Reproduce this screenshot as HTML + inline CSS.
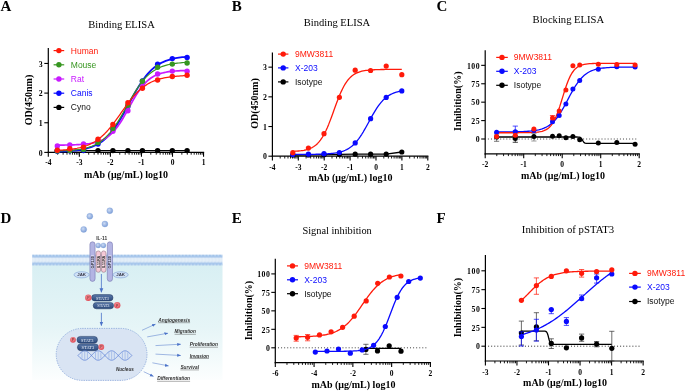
<!DOCTYPE html>
<html><head><meta charset="utf-8"><style>
html,body{margin:0;padding:0;background:#fff;}
body{width:685px;height:391px;overflow:hidden;}
svg{display:block;will-change:transform;}

</style></head><body>
<svg width="685" height="391" viewBox="0 0 685 391">
<rect width="685" height="391" fill="#fff"/>
<text x="0.6" y="11" font-family='"Liberation Serif", serif' font-weight="bold" font-size="15">A</text>
<text x="88.3" y="28.4" textLength="66.5" lengthAdjust="spacingAndGlyphs" font-family='"Liberation Serif", serif' font-size="10.7">Binding ELISA</text>
<line x1="48.3" y1="48" x2="48.3" y2="153" stroke="#000" stroke-width="1.2"/>
<line x1="44.3" y1="152.4" x2="48.3" y2="152.4" stroke="#000" stroke-width="1.1"/>
<text x="43.1" y="155.65" text-anchor="end" letter-spacing="0.5" font-family='"Liberation Serif", serif' font-weight="bold" font-size="7.8">0</text>
<line x1="44.3" y1="122.75" x2="48.3" y2="122.75" stroke="#000" stroke-width="1.1"/>
<text x="43.1" y="126" text-anchor="end" letter-spacing="0.5" font-family='"Liberation Serif", serif' font-weight="bold" font-size="7.8">1</text>
<line x1="44.3" y1="93.1" x2="48.3" y2="93.1" stroke="#000" stroke-width="1.1"/>
<text x="43.1" y="96.35" text-anchor="end" letter-spacing="0.5" font-family='"Liberation Serif", serif' font-weight="bold" font-size="7.8">2</text>
<line x1="44.3" y1="63.45" x2="48.3" y2="63.45" stroke="#000" stroke-width="1.1"/>
<text x="43.1" y="66.7" text-anchor="end" letter-spacing="0.5" font-family='"Liberation Serif", serif' font-weight="bold" font-size="7.8">3</text>
<line x1="47.7" y1="152.4" x2="204.15" y2="152.4" stroke="#000" stroke-width="1.2"/>
<line x1="48.3" y1="152.4" x2="48.3" y2="156.8" stroke="#000" stroke-width="1.1"/>
<text x="48.3" y="165.4" text-anchor="middle" font-family='"Liberation Serif", serif' font-weight="bold" font-size="7.5">-4</text>
<line x1="57.65" y1="152.4" x2="57.65" y2="154.7" stroke="#000" stroke-width="0.9"/>
<line x1="63.11" y1="152.4" x2="63.11" y2="154.7" stroke="#000" stroke-width="0.9"/>
<line x1="66.99" y1="152.4" x2="66.99" y2="154.7" stroke="#000" stroke-width="0.9"/>
<line x1="70" y1="152.4" x2="70" y2="154.7" stroke="#000" stroke-width="0.9"/>
<line x1="72.46" y1="152.4" x2="72.46" y2="154.7" stroke="#000" stroke-width="0.9"/>
<line x1="74.54" y1="152.4" x2="74.54" y2="154.7" stroke="#000" stroke-width="0.9"/>
<line x1="76.34" y1="152.4" x2="76.34" y2="154.7" stroke="#000" stroke-width="0.9"/>
<line x1="77.93" y1="152.4" x2="77.93" y2="154.7" stroke="#000" stroke-width="0.9"/>
<line x1="79.35" y1="152.4" x2="79.35" y2="156.8" stroke="#000" stroke-width="1.1"/>
<text x="79.35" y="165.4" text-anchor="middle" font-family='"Liberation Serif", serif' font-weight="bold" font-size="7.5">-3</text>
<line x1="88.7" y1="152.4" x2="88.7" y2="154.7" stroke="#000" stroke-width="0.9"/>
<line x1="94.16" y1="152.4" x2="94.16" y2="154.7" stroke="#000" stroke-width="0.9"/>
<line x1="98.04" y1="152.4" x2="98.04" y2="154.7" stroke="#000" stroke-width="0.9"/>
<line x1="101.05" y1="152.4" x2="101.05" y2="154.7" stroke="#000" stroke-width="0.9"/>
<line x1="103.51" y1="152.4" x2="103.51" y2="154.7" stroke="#000" stroke-width="0.9"/>
<line x1="105.59" y1="152.4" x2="105.59" y2="154.7" stroke="#000" stroke-width="0.9"/>
<line x1="107.39" y1="152.4" x2="107.39" y2="154.7" stroke="#000" stroke-width="0.9"/>
<line x1="108.98" y1="152.4" x2="108.98" y2="154.7" stroke="#000" stroke-width="0.9"/>
<line x1="110.4" y1="152.4" x2="110.4" y2="156.8" stroke="#000" stroke-width="1.1"/>
<text x="110.4" y="165.4" text-anchor="middle" font-family='"Liberation Serif", serif' font-weight="bold" font-size="7.5">-2</text>
<line x1="119.75" y1="152.4" x2="119.75" y2="154.7" stroke="#000" stroke-width="0.9"/>
<line x1="125.21" y1="152.4" x2="125.21" y2="154.7" stroke="#000" stroke-width="0.9"/>
<line x1="129.09" y1="152.4" x2="129.09" y2="154.7" stroke="#000" stroke-width="0.9"/>
<line x1="132.1" y1="152.4" x2="132.1" y2="154.7" stroke="#000" stroke-width="0.9"/>
<line x1="134.56" y1="152.4" x2="134.56" y2="154.7" stroke="#000" stroke-width="0.9"/>
<line x1="136.64" y1="152.4" x2="136.64" y2="154.7" stroke="#000" stroke-width="0.9"/>
<line x1="138.44" y1="152.4" x2="138.44" y2="154.7" stroke="#000" stroke-width="0.9"/>
<line x1="140.03" y1="152.4" x2="140.03" y2="154.7" stroke="#000" stroke-width="0.9"/>
<line x1="141.45" y1="152.4" x2="141.45" y2="156.8" stroke="#000" stroke-width="1.1"/>
<text x="141.45" y="165.4" text-anchor="middle" font-family='"Liberation Serif", serif' font-weight="bold" font-size="7.5">-1</text>
<line x1="150.8" y1="152.4" x2="150.8" y2="154.7" stroke="#000" stroke-width="0.9"/>
<line x1="156.26" y1="152.4" x2="156.26" y2="154.7" stroke="#000" stroke-width="0.9"/>
<line x1="160.14" y1="152.4" x2="160.14" y2="154.7" stroke="#000" stroke-width="0.9"/>
<line x1="163.15" y1="152.4" x2="163.15" y2="154.7" stroke="#000" stroke-width="0.9"/>
<line x1="165.61" y1="152.4" x2="165.61" y2="154.7" stroke="#000" stroke-width="0.9"/>
<line x1="167.69" y1="152.4" x2="167.69" y2="154.7" stroke="#000" stroke-width="0.9"/>
<line x1="169.49" y1="152.4" x2="169.49" y2="154.7" stroke="#000" stroke-width="0.9"/>
<line x1="171.08" y1="152.4" x2="171.08" y2="154.7" stroke="#000" stroke-width="0.9"/>
<line x1="172.5" y1="152.4" x2="172.5" y2="156.8" stroke="#000" stroke-width="1.1"/>
<text x="172.5" y="165.4" text-anchor="middle" font-family='"Liberation Serif", serif' font-weight="bold" font-size="7.5">0</text>
<line x1="181.85" y1="152.4" x2="181.85" y2="154.7" stroke="#000" stroke-width="0.9"/>
<line x1="187.31" y1="152.4" x2="187.31" y2="154.7" stroke="#000" stroke-width="0.9"/>
<line x1="191.19" y1="152.4" x2="191.19" y2="154.7" stroke="#000" stroke-width="0.9"/>
<line x1="194.2" y1="152.4" x2="194.2" y2="154.7" stroke="#000" stroke-width="0.9"/>
<line x1="196.66" y1="152.4" x2="196.66" y2="154.7" stroke="#000" stroke-width="0.9"/>
<line x1="198.74" y1="152.4" x2="198.74" y2="154.7" stroke="#000" stroke-width="0.9"/>
<line x1="200.54" y1="152.4" x2="200.54" y2="154.7" stroke="#000" stroke-width="0.9"/>
<line x1="202.13" y1="152.4" x2="202.13" y2="154.7" stroke="#000" stroke-width="0.9"/>
<line x1="203.55" y1="152.4" x2="203.55" y2="156.8" stroke="#000" stroke-width="1.1"/>
<text x="203.55" y="165.4" text-anchor="middle" font-family='"Liberation Serif", serif' font-weight="bold" font-size="7.5">1</text>
<text transform="translate(32.2,100) rotate(-90)" text-anchor="middle" font-family='"Liberation Serif", serif' font-weight="bold" font-size="10">OD(450nm)</text>
<text x="84" y="177.8" font-family='"Liberation Serif", serif' font-weight="bold" font-size="10">mAb (&#956;g/mL) log10</text>
<polyline points="57.3,150.6 69.8,150.6 83.5,150.6 98,150.6 112.9,150.6 127.9,150.6 142.4,150.6 157.6,150.6 172.3,150.6 187.1,150.6" fill="none" stroke="#000000" stroke-width="1.3" stroke-linejoin="round"/>
<circle cx="57.3" cy="150.6" r="2.7" fill="#000000"/>
<circle cx="69.8" cy="150.6" r="2.7" fill="#000000"/>
<circle cx="83.5" cy="150.6" r="2.7" fill="#000000"/>
<circle cx="98" cy="150.6" r="2.7" fill="#000000"/>
<circle cx="112.9" cy="150.6" r="2.7" fill="#000000"/>
<circle cx="127.9" cy="150.6" r="2.7" fill="#000000"/>
<circle cx="142.4" cy="150.6" r="2.7" fill="#000000"/>
<circle cx="157.6" cy="150.6" r="2.7" fill="#000000"/>
<circle cx="172.3" cy="150.6" r="2.7" fill="#000000"/>
<circle cx="187.1" cy="150.6" r="2.7" fill="#000000"/>
<path d="M57.3 151.6 L58.94 151.55 L60.59 151.5 L62.23 151.43 L63.87 151.36 L65.52 151.28 L67.16 151.19 L68.8 151.08 L70.44 150.96 L72.09 150.83 L73.73 150.67 L75.37 150.5 L77.02 150.3 L78.66 150.08 L80.3 149.83 L81.95 149.55 L83.59 149.23 L85.23 148.87 L86.87 148.46 L88.52 148 L90.16 147.48 L91.8 146.9 L93.45 146.25 L95.09 145.53 L96.73 144.72 L98.38 143.81 L100.02 142.8 L101.66 141.69 L103.31 140.45 L104.95 139.09 L106.59 137.59 L108.23 135.96 L109.88 134.18 L111.52 132.25 L113.16 130.17 L114.81 127.93 L116.45 125.55 L118.09 123.03 L119.74 120.38 L121.38 117.61 L123.02 114.73 L124.66 111.77 L126.31 108.75 L127.95 105.69 L129.59 102.61 L131.24 99.54 L132.88 96.51 L134.52 93.54 L136.17 90.65 L137.81 87.85 L139.45 85.17 L141.09 82.63 L142.74 80.22 L144.38 77.96 L146.02 75.84 L147.67 73.88 L149.31 72.07 L150.95 70.41 L152.6 68.89 L154.24 67.5 L155.88 66.24 L157.53 65.1 L159.17 64.08 L160.81 63.15 L162.45 62.32 L164.1 61.58 L165.74 60.91 L167.38 60.32 L169.03 59.79 L170.67 59.32 L172.31 58.91 L173.96 58.54 L175.6 58.21 L177.24 57.92 L178.88 57.66 L180.53 57.43 L182.17 57.23 L183.81 57.05 L185.46 56.9 L187.1 56.76" fill="none" stroke="#0a0aff" stroke-width="1.8" stroke-linejoin="round"/>
<circle cx="57.3" cy="151.2" r="2.7" fill="#0a0aff"/>
<circle cx="69.8" cy="150.8" r="2.7" fill="#0a0aff"/>
<circle cx="83.5" cy="150.3" r="2.7" fill="#0a0aff"/>
<circle cx="98" cy="144" r="2.7" fill="#0a0aff"/>
<circle cx="112.9" cy="129.6" r="2.7" fill="#0a0aff"/>
<circle cx="127.9" cy="106.4" r="2.7" fill="#0a0aff"/>
<circle cx="142.4" cy="81" r="2.7" fill="#0a0aff"/>
<circle cx="157.6" cy="64.2" r="2.7" fill="#0a0aff"/>
<circle cx="172.3" cy="58.6" r="2.7" fill="#0a0aff"/>
<circle cx="187.1" cy="57.5" r="2.7" fill="#0a0aff"/>
<path d="M57.3 145.09 L58.94 145.08 L60.59 145.06 L62.23 145.05 L63.87 145.03 L65.52 145 L67.16 144.98 L68.8 144.95 L70.44 144.91 L72.09 144.87 L73.73 144.82 L75.37 144.76 L77.02 144.69 L78.66 144.61 L80.3 144.51 L81.95 144.4 L83.59 144.27 L85.23 144.12 L86.87 143.94 L88.52 143.74 L90.16 143.49 L91.8 143.21 L93.45 142.89 L95.09 142.5 L96.73 142.06 L98.38 141.55 L100.02 140.96 L101.66 140.27 L103.31 139.49 L104.95 138.59 L106.59 137.56 L108.23 136.4 L109.88 135.08 L111.52 133.59 L113.16 131.94 L114.81 130.1 L116.45 128.08 L118.09 125.87 L119.74 123.49 L121.38 120.94 L123.02 118.24 L124.66 115.42 L126.31 112.5 L127.95 109.52 L129.59 106.52 L131.24 103.53 L132.88 100.59 L134.52 97.75 L136.17 95.02 L137.81 92.43 L139.45 90.01 L141.09 87.76 L142.74 85.7 L144.38 83.82 L146.02 82.13 L147.67 80.61 L149.31 79.25 L150.95 78.06 L152.6 77 L154.24 76.07 L155.88 75.26 L157.53 74.56 L159.17 73.95 L160.81 73.42 L162.45 72.96 L164.1 72.57 L165.74 72.23 L167.38 71.94 L169.03 71.69 L170.67 71.47 L172.31 71.29 L173.96 71.13 L175.6 71 L177.24 70.89 L178.88 70.79 L180.53 70.7 L182.17 70.63 L183.81 70.57 L185.46 70.52 L187.1 70.47" fill="none" stroke="#c81aff" stroke-width="1.7" stroke-linejoin="round"/>
<circle cx="57.3" cy="145.9" r="2.7" fill="#c81aff"/>
<circle cx="69.8" cy="144.9" r="2.7" fill="#c81aff"/>
<circle cx="83.5" cy="144" r="2.7" fill="#c81aff"/>
<circle cx="98" cy="141.5" r="2.7" fill="#c81aff"/>
<circle cx="112.9" cy="131.3" r="2.7" fill="#c81aff"/>
<circle cx="127.9" cy="110.7" r="2.7" fill="#c81aff"/>
<circle cx="142.4" cy="85.5" r="2.7" fill="#c81aff"/>
<circle cx="157.6" cy="74" r="2.7" fill="#c81aff"/>
<circle cx="172.3" cy="71.1" r="2.7" fill="#c81aff"/>
<circle cx="187.1" cy="71.3" r="2.7" fill="#c81aff"/>
<path d="M57.3 150.98 L58.94 150.93 L60.59 150.88 L62.23 150.82 L63.87 150.75 L65.52 150.67 L67.16 150.58 L68.8 150.47 L70.44 150.35 L72.09 150.22 L73.73 150.07 L75.37 149.89 L77.02 149.7 L78.66 149.47 L80.3 149.22 L81.95 148.93 L83.59 148.6 L85.23 148.23 L86.87 147.81 L88.52 147.34 L90.16 146.81 L91.8 146.2 L93.45 145.53 L95.09 144.77 L96.73 143.92 L98.38 142.97 L100.02 141.91 L101.66 140.74 L103.31 139.44 L104.95 138.01 L106.59 136.44 L108.23 134.73 L109.88 132.87 L111.52 130.85 L113.16 128.69 L114.81 126.38 L116.45 123.92 L118.09 121.34 L119.74 118.65 L121.38 115.86 L123.02 112.98 L124.66 110.06 L126.31 107.1 L127.95 104.13 L129.59 101.19 L131.24 98.29 L132.88 95.46 L134.52 92.72 L136.17 90.09 L137.81 87.59 L139.45 85.22 L141.09 82.99 L142.74 80.92 L144.38 78.99 L146.02 77.21 L147.67 75.59 L149.31 74.1 L150.95 72.75 L152.6 71.52 L154.24 70.42 L155.88 69.43 L157.53 68.54 L159.17 67.74 L160.81 67.03 L162.45 66.4 L164.1 65.84 L165.74 65.34 L167.38 64.9 L169.03 64.51 L170.67 64.17 L172.31 63.86 L173.96 63.59 L175.6 63.36 L177.24 63.15 L178.88 62.97 L180.53 62.81 L182.17 62.67 L183.81 62.54 L185.46 62.43 L187.1 62.34" fill="none" stroke="#379620" stroke-width="1.15" stroke-linejoin="round"/>
<circle cx="57.3" cy="150.9" r="2.7" fill="#379620"/>
<circle cx="69.8" cy="150.4" r="2.7" fill="#379620"/>
<circle cx="83.5" cy="149.4" r="2.7" fill="#379620"/>
<circle cx="98" cy="142.6" r="2.7" fill="#379620"/>
<circle cx="112.9" cy="128.4" r="2.7" fill="#379620"/>
<circle cx="127.9" cy="105.2" r="2.7" fill="#379620"/>
<circle cx="142.4" cy="81.2" r="2.7" fill="#379620"/>
<circle cx="157.6" cy="67.3" r="2.7" fill="#379620"/>
<circle cx="172.3" cy="64.1" r="2.7" fill="#379620"/>
<circle cx="187.1" cy="63" r="2.7" fill="#379620"/>
<path d="M57.3 150.3 L58.94 150.21 L60.59 150.12 L62.23 150.02 L63.87 149.9 L65.52 149.77 L67.16 149.62 L68.8 149.45 L70.44 149.26 L72.09 149.05 L73.73 148.81 L75.37 148.54 L77.02 148.24 L78.66 147.9 L80.3 147.52 L81.95 147.09 L83.59 146.62 L85.23 146.09 L86.87 145.5 L88.52 144.84 L90.16 144.11 L91.8 143.31 L93.45 142.42 L95.09 141.44 L96.73 140.37 L98.38 139.2 L100.02 137.92 L101.66 136.54 L103.31 135.04 L104.95 133.44 L106.59 131.72 L108.23 129.9 L109.88 127.97 L111.52 125.95 L113.16 123.84 L114.81 121.65 L116.45 119.4 L118.09 117.11 L119.74 114.78 L121.38 112.44 L123.02 110.11 L124.66 107.8 L126.31 105.52 L127.95 103.3 L129.59 101.15 L131.24 99.08 L132.88 97.1 L134.52 95.22 L136.17 93.45 L137.81 91.79 L139.45 90.23 L141.09 88.79 L142.74 87.46 L144.38 86.23 L146.02 85.11 L147.67 84.08 L149.31 83.15 L150.95 82.3 L152.6 81.53 L154.24 80.84 L155.88 80.21 L157.53 79.65 L159.17 79.15 L160.81 78.7 L162.45 78.3 L164.1 77.94 L165.74 77.61 L167.38 77.33 L169.03 77.07 L170.67 76.85 L172.31 76.64 L173.96 76.47 L175.6 76.31 L177.24 76.17 L178.88 76.04 L180.53 75.93 L182.17 75.83 L183.81 75.74 L185.46 75.67 L187.1 75.6" fill="none" stroke="#ff1a0a" stroke-width="1.25" stroke-linejoin="round"/>
<circle cx="57.3" cy="150.3" r="2.7" fill="#ff1a0a"/>
<circle cx="69.8" cy="148.8" r="2.7" fill="#ff1a0a"/>
<circle cx="83.5" cy="147.3" r="2.7" fill="#ff1a0a"/>
<circle cx="98" cy="139.3" r="2.7" fill="#ff1a0a"/>
<circle cx="112.9" cy="124.5" r="2.7" fill="#ff1a0a"/>
<circle cx="127.9" cy="102.7" r="2.7" fill="#ff1a0a"/>
<circle cx="142.4" cy="88.2" r="2.7" fill="#ff1a0a"/>
<circle cx="157.6" cy="80" r="2.7" fill="#ff1a0a"/>
<circle cx="172.3" cy="76.5" r="2.7" fill="#ff1a0a"/>
<circle cx="187.1" cy="75.3" r="2.7" fill="#ff1a0a"/>
<line x1="53.6" y1="50.6" x2="64.2" y2="50.6" stroke="#ff1a0a" stroke-width="1.2"/>
<circle cx="58.9" cy="50.6" r="2.7" fill="#ff1a0a"/>
<text x="70.8" y="53.5" font-family='"Liberation Sans", sans-serif' font-size="8.5" fill="#ff1a0a">Human</text>
<line x1="53.6" y1="64.8" x2="64.2" y2="64.8" stroke="#379620" stroke-width="1.2"/>
<circle cx="58.9" cy="64.8" r="2.7" fill="#379620"/>
<text x="70.8" y="67.7" font-family='"Liberation Sans", sans-serif' font-size="8.5" fill="#379620">Mouse</text>
<line x1="53.6" y1="79" x2="64.2" y2="79" stroke="#c81aff" stroke-width="1.2"/>
<circle cx="58.9" cy="79" r="2.7" fill="#c81aff"/>
<text x="70.8" y="81.9" font-family='"Liberation Sans", sans-serif' font-size="8.5" fill="#c81aff">Rat</text>
<line x1="53.6" y1="93.2" x2="64.2" y2="93.2" stroke="#0a0aff" stroke-width="1.2"/>
<circle cx="58.9" cy="93.2" r="2.7" fill="#0a0aff"/>
<text x="70.8" y="96.1" font-family='"Liberation Sans", sans-serif' font-size="8.5" fill="#0a0aff">Canis</text>
<line x1="53.6" y1="107.4" x2="64.2" y2="107.4" stroke="#000000" stroke-width="1.2"/>
<circle cx="58.9" cy="107.4" r="2.7" fill="#000000"/>
<text x="70.8" y="110.3" font-family='"Liberation Sans", sans-serif' font-size="8.5" fill="#111">Cyno</text>
<text x="231.8" y="11" font-family='"Liberation Serif", serif' font-weight="bold" font-size="15">B</text>
<text x="303.8" y="26.1" textLength="66.4" lengthAdjust="spacingAndGlyphs" font-family='"Liberation Serif", serif' font-size="10.7">Binding ELISA</text>
<line x1="272.4" y1="52.4" x2="272.4" y2="156.8" stroke="#000" stroke-width="1.2"/>
<line x1="268.4" y1="156.2" x2="272.4" y2="156.2" stroke="#000" stroke-width="1.1"/>
<text x="267.3" y="159.45" text-anchor="end" letter-spacing="0.5" font-family='"Liberation Serif", serif' font-weight="bold" font-size="7.8">0</text>
<line x1="268.4" y1="126.52" x2="272.4" y2="126.52" stroke="#000" stroke-width="1.1"/>
<text x="267.3" y="129.77" text-anchor="end" letter-spacing="0.5" font-family='"Liberation Serif", serif' font-weight="bold" font-size="7.8">1</text>
<line x1="268.4" y1="96.84" x2="272.4" y2="96.84" stroke="#000" stroke-width="1.1"/>
<text x="267.3" y="100.09" text-anchor="end" letter-spacing="0.5" font-family='"Liberation Serif", serif' font-weight="bold" font-size="7.8">2</text>
<line x1="268.4" y1="67.16" x2="272.4" y2="67.16" stroke="#000" stroke-width="1.1"/>
<text x="267.3" y="70.41" text-anchor="end" letter-spacing="0.5" font-family='"Liberation Serif", serif' font-weight="bold" font-size="7.8">3</text>
<line x1="271.8" y1="156.2" x2="428.4" y2="156.2" stroke="#000" stroke-width="1.2"/>
<line x1="272.4" y1="156.2" x2="272.4" y2="160.6" stroke="#000" stroke-width="1.1"/>
<text x="272.4" y="169.5" text-anchor="middle" font-family='"Liberation Serif", serif' font-weight="bold" font-size="7.5">-4</text>
<line x1="280.2" y1="156.2" x2="280.2" y2="158.5" stroke="#000" stroke-width="0.9"/>
<line x1="284.76" y1="156.2" x2="284.76" y2="158.5" stroke="#000" stroke-width="0.9"/>
<line x1="287.99" y1="156.2" x2="287.99" y2="158.5" stroke="#000" stroke-width="0.9"/>
<line x1="290.5" y1="156.2" x2="290.5" y2="158.5" stroke="#000" stroke-width="0.9"/>
<line x1="292.55" y1="156.2" x2="292.55" y2="158.5" stroke="#000" stroke-width="0.9"/>
<line x1="294.29" y1="156.2" x2="294.29" y2="158.5" stroke="#000" stroke-width="0.9"/>
<line x1="295.79" y1="156.2" x2="295.79" y2="158.5" stroke="#000" stroke-width="0.9"/>
<line x1="297.11" y1="156.2" x2="297.11" y2="158.5" stroke="#000" stroke-width="0.9"/>
<line x1="298.3" y1="156.2" x2="298.3" y2="160.6" stroke="#000" stroke-width="1.1"/>
<text x="298.3" y="169.5" text-anchor="middle" font-family='"Liberation Serif", serif' font-weight="bold" font-size="7.5">-3</text>
<line x1="306.1" y1="156.2" x2="306.1" y2="158.5" stroke="#000" stroke-width="0.9"/>
<line x1="310.66" y1="156.2" x2="310.66" y2="158.5" stroke="#000" stroke-width="0.9"/>
<line x1="313.89" y1="156.2" x2="313.89" y2="158.5" stroke="#000" stroke-width="0.9"/>
<line x1="316.4" y1="156.2" x2="316.4" y2="158.5" stroke="#000" stroke-width="0.9"/>
<line x1="318.45" y1="156.2" x2="318.45" y2="158.5" stroke="#000" stroke-width="0.9"/>
<line x1="320.19" y1="156.2" x2="320.19" y2="158.5" stroke="#000" stroke-width="0.9"/>
<line x1="321.69" y1="156.2" x2="321.69" y2="158.5" stroke="#000" stroke-width="0.9"/>
<line x1="323.01" y1="156.2" x2="323.01" y2="158.5" stroke="#000" stroke-width="0.9"/>
<line x1="324.2" y1="156.2" x2="324.2" y2="160.6" stroke="#000" stroke-width="1.1"/>
<text x="324.2" y="169.5" text-anchor="middle" font-family='"Liberation Serif", serif' font-weight="bold" font-size="7.5">-2</text>
<line x1="332" y1="156.2" x2="332" y2="158.5" stroke="#000" stroke-width="0.9"/>
<line x1="336.56" y1="156.2" x2="336.56" y2="158.5" stroke="#000" stroke-width="0.9"/>
<line x1="339.79" y1="156.2" x2="339.79" y2="158.5" stroke="#000" stroke-width="0.9"/>
<line x1="342.3" y1="156.2" x2="342.3" y2="158.5" stroke="#000" stroke-width="0.9"/>
<line x1="344.35" y1="156.2" x2="344.35" y2="158.5" stroke="#000" stroke-width="0.9"/>
<line x1="346.09" y1="156.2" x2="346.09" y2="158.5" stroke="#000" stroke-width="0.9"/>
<line x1="347.59" y1="156.2" x2="347.59" y2="158.5" stroke="#000" stroke-width="0.9"/>
<line x1="348.91" y1="156.2" x2="348.91" y2="158.5" stroke="#000" stroke-width="0.9"/>
<line x1="350.1" y1="156.2" x2="350.1" y2="160.6" stroke="#000" stroke-width="1.1"/>
<text x="350.1" y="169.5" text-anchor="middle" font-family='"Liberation Serif", serif' font-weight="bold" font-size="7.5">-1</text>
<line x1="357.9" y1="156.2" x2="357.9" y2="158.5" stroke="#000" stroke-width="0.9"/>
<line x1="362.46" y1="156.2" x2="362.46" y2="158.5" stroke="#000" stroke-width="0.9"/>
<line x1="365.69" y1="156.2" x2="365.69" y2="158.5" stroke="#000" stroke-width="0.9"/>
<line x1="368.2" y1="156.2" x2="368.2" y2="158.5" stroke="#000" stroke-width="0.9"/>
<line x1="370.25" y1="156.2" x2="370.25" y2="158.5" stroke="#000" stroke-width="0.9"/>
<line x1="371.99" y1="156.2" x2="371.99" y2="158.5" stroke="#000" stroke-width="0.9"/>
<line x1="373.49" y1="156.2" x2="373.49" y2="158.5" stroke="#000" stroke-width="0.9"/>
<line x1="374.81" y1="156.2" x2="374.81" y2="158.5" stroke="#000" stroke-width="0.9"/>
<line x1="376" y1="156.2" x2="376" y2="160.6" stroke="#000" stroke-width="1.1"/>
<text x="376" y="169.5" text-anchor="middle" font-family='"Liberation Serif", serif' font-weight="bold" font-size="7.5">0</text>
<line x1="383.8" y1="156.2" x2="383.8" y2="158.5" stroke="#000" stroke-width="0.9"/>
<line x1="388.36" y1="156.2" x2="388.36" y2="158.5" stroke="#000" stroke-width="0.9"/>
<line x1="391.59" y1="156.2" x2="391.59" y2="158.5" stroke="#000" stroke-width="0.9"/>
<line x1="394.1" y1="156.2" x2="394.1" y2="158.5" stroke="#000" stroke-width="0.9"/>
<line x1="396.15" y1="156.2" x2="396.15" y2="158.5" stroke="#000" stroke-width="0.9"/>
<line x1="397.89" y1="156.2" x2="397.89" y2="158.5" stroke="#000" stroke-width="0.9"/>
<line x1="399.39" y1="156.2" x2="399.39" y2="158.5" stroke="#000" stroke-width="0.9"/>
<line x1="400.71" y1="156.2" x2="400.71" y2="158.5" stroke="#000" stroke-width="0.9"/>
<line x1="401.9" y1="156.2" x2="401.9" y2="160.6" stroke="#000" stroke-width="1.1"/>
<text x="401.9" y="169.5" text-anchor="middle" font-family='"Liberation Serif", serif' font-weight="bold" font-size="7.5">1</text>
<line x1="409.7" y1="156.2" x2="409.7" y2="158.5" stroke="#000" stroke-width="0.9"/>
<line x1="414.26" y1="156.2" x2="414.26" y2="158.5" stroke="#000" stroke-width="0.9"/>
<line x1="417.49" y1="156.2" x2="417.49" y2="158.5" stroke="#000" stroke-width="0.9"/>
<line x1="420" y1="156.2" x2="420" y2="158.5" stroke="#000" stroke-width="0.9"/>
<line x1="422.05" y1="156.2" x2="422.05" y2="158.5" stroke="#000" stroke-width="0.9"/>
<line x1="423.79" y1="156.2" x2="423.79" y2="158.5" stroke="#000" stroke-width="0.9"/>
<line x1="425.29" y1="156.2" x2="425.29" y2="158.5" stroke="#000" stroke-width="0.9"/>
<line x1="426.61" y1="156.2" x2="426.61" y2="158.5" stroke="#000" stroke-width="0.9"/>
<line x1="427.8" y1="156.2" x2="427.8" y2="160.6" stroke="#000" stroke-width="1.1"/>
<text x="427.8" y="169.5" text-anchor="middle" font-family='"Liberation Serif", serif' font-weight="bold" font-size="7.5">2</text>
<text transform="translate(258,103.5) rotate(-90)" text-anchor="middle" font-family='"Liberation Serif", serif' font-weight="bold" font-size="10">OD(450nm)</text>
<text x="308.4" y="181" font-family='"Liberation Serif", serif' font-weight="bold" font-size="10">mAb (&#956;g/mL) log10</text>
<polyline points="292.8,155 308.4,154.9 324,154.7 339.4,154.4 355.2,154.2 370.6,154.2 386.2,154.1 401.8,152" fill="none" stroke="#000000" stroke-width="1.3" stroke-linejoin="round"/>
<circle cx="292.8" cy="155" r="2.6" fill="#000000"/>
<circle cx="308.4" cy="154.9" r="2.6" fill="#000000"/>
<circle cx="324" cy="154.7" r="2.6" fill="#000000"/>
<circle cx="339.4" cy="154.4" r="2.6" fill="#000000"/>
<circle cx="355.2" cy="154.2" r="2.6" fill="#000000"/>
<circle cx="370.6" cy="154.2" r="2.6" fill="#000000"/>
<circle cx="386.2" cy="154.1" r="2.6" fill="#000000"/>
<circle cx="401.8" cy="152" r="2.6" fill="#000000"/>
<path d="M292.8 154.41 L294.18 154.41 L295.56 154.41 L296.94 154.41 L298.32 154.4 L299.7 154.4 L301.08 154.39 L302.46 154.39 L303.84 154.38 L305.22 154.38 L306.6 154.37 L307.98 154.36 L309.36 154.35 L310.74 154.34 L312.12 154.32 L313.5 154.3 L314.88 154.28 L316.26 154.26 L317.64 154.23 L319.02 154.2 L320.39 154.16 L321.77 154.11 L323.15 154.06 L324.53 154 L325.91 153.93 L327.29 153.85 L328.67 153.75 L330.05 153.64 L331.43 153.51 L332.81 153.35 L334.19 153.17 L335.57 152.97 L336.95 152.73 L338.33 152.45 L339.71 152.13 L341.09 151.75 L342.47 151.32 L343.85 150.82 L345.23 150.25 L346.61 149.6 L347.99 148.85 L349.37 148 L350.75 147.03 L352.13 145.94 L353.51 144.72 L354.89 143.35 L356.27 141.84 L357.65 140.17 L359.03 138.35 L360.41 136.39 L361.79 134.28 L363.17 132.04 L364.55 129.68 L365.93 127.24 L367.31 124.74 L368.69 122.2 L370.07 119.66 L371.45 117.15 L372.83 114.69 L374.21 112.32 L375.58 110.05 L376.96 107.91 L378.34 105.91 L379.72 104.06 L381.1 102.36 L382.48 100.81 L383.86 99.41 L385.24 98.16 L386.62 97.04 L388 96.05 L389.38 95.17 L390.76 94.4 L392.14 93.73 L393.52 93.14 L394.9 92.63 L396.28 92.18 L397.66 91.8 L399.04 91.46 L400.42 91.17 L401.8 90.93" fill="none" stroke="#0a0aff" stroke-width="1.3" stroke-linejoin="round"/>
<circle cx="292.8" cy="154.6" r="2.6" fill="#0a0aff"/>
<circle cx="308.4" cy="154.2" r="2.6" fill="#0a0aff"/>
<circle cx="324" cy="153.7" r="2.6" fill="#0a0aff"/>
<circle cx="339.4" cy="152.6" r="2.6" fill="#0a0aff"/>
<circle cx="355.2" cy="142.9" r="2.6" fill="#0a0aff"/>
<circle cx="370.6" cy="118.7" r="2.6" fill="#0a0aff"/>
<circle cx="386.2" cy="97.4" r="2.6" fill="#0a0aff"/>
<circle cx="401.8" cy="90.9" r="2.6" fill="#0a0aff"/>
<path d="M292.8 151.36 L294.18 151.3 L295.56 151.22 L296.94 151.13 L298.32 151.02 L299.7 150.88 L301.08 150.72 L302.46 150.52 L303.84 150.29 L305.22 150.01 L306.6 149.67 L307.98 149.27 L309.36 148.79 L310.74 148.22 L312.12 147.55 L313.5 146.75 L314.88 145.81 L316.26 144.71 L317.64 143.42 L319.02 141.93 L320.39 140.21 L321.77 138.24 L323.15 136.01 L324.53 133.5 L325.91 130.72 L327.29 127.67 L328.67 124.38 L330.05 120.87 L331.43 117.2 L332.81 113.41 L334.19 109.58 L335.57 105.76 L336.95 102.02 L338.33 98.43 L339.71 95.02 L341.09 91.85 L342.47 88.93 L343.85 86.29 L345.23 83.92 L346.61 81.82 L347.99 79.97 L349.37 78.37 L350.75 76.98 L352.13 75.79 L353.51 74.77 L354.89 73.9 L356.27 73.17 L357.65 72.55 L359.03 72.03 L360.41 71.59 L361.79 71.22 L363.17 70.92 L364.55 70.66 L365.93 70.45 L367.31 70.27 L368.69 70.12 L370.07 69.99 L371.45 69.89 L372.83 69.81 L374.21 69.74 L375.58 69.68 L376.96 69.63 L378.34 69.59 L379.72 69.55 L381.1 69.52 L382.48 69.5 L383.86 69.48 L385.24 69.47 L386.62 69.45 L388 69.44 L389.38 69.43 L390.76 69.42 L392.14 69.42 L393.52 69.41 L394.9 69.41 L396.28 69.4 L397.66 69.4 L399.04 69.4 L400.42 69.4 L401.8 69.39" fill="none" stroke="#ff1a0a" stroke-width="1.3" stroke-linejoin="round"/>
<circle cx="292.8" cy="152.7" r="2.6" fill="#ff1a0a"/>
<circle cx="308.4" cy="148.1" r="2.6" fill="#ff1a0a"/>
<circle cx="324" cy="133.7" r="2.6" fill="#ff1a0a"/>
<circle cx="339.4" cy="97.3" r="2.6" fill="#ff1a0a"/>
<circle cx="355.2" cy="70.2" r="2.6" fill="#ff1a0a"/>
<circle cx="370.6" cy="70.5" r="2.6" fill="#ff1a0a"/>
<circle cx="386.2" cy="66.1" r="2.6" fill="#ff1a0a"/>
<circle cx="401.8" cy="74.7" r="2.6" fill="#ff1a0a"/>
<line x1="278" y1="54.1" x2="288.4" y2="54.1" stroke="#ff1a0a" stroke-width="1.2"/>
<circle cx="283.2" cy="54.1" r="2.7" fill="#ff1a0a"/>
<text x="295" y="57" font-family='"Liberation Sans", sans-serif' font-size="8.5" fill="#ff1a0a">9MW3811</text>
<line x1="278" y1="67.9" x2="288.4" y2="67.9" stroke="#0a0aff" stroke-width="1.2"/>
<circle cx="283.2" cy="67.9" r="2.7" fill="#0a0aff"/>
<text x="295" y="70.8" font-family='"Liberation Sans", sans-serif' font-size="8.5" fill="#0a0aff">X-203</text>
<line x1="278" y1="81.9" x2="288.4" y2="81.9" stroke="#000000" stroke-width="1.2"/>
<circle cx="283.2" cy="81.9" r="2.7" fill="#000000"/>
<text x="295" y="84.8" font-family='"Liberation Sans", sans-serif' font-size="8.5" fill="#111">Isotype</text>
<text x="436.4" y="11" font-family='"Liberation Serif", serif' font-weight="bold" font-size="15">C</text>
<text x="532.6" y="23.1" textLength="71.5" lengthAdjust="spacingAndGlyphs" font-family='"Liberation Serif", serif' font-size="10.7">Blocking ELISA</text>
<line x1="485.2" y1="50.2" x2="485.2" y2="154.4" stroke="#000" stroke-width="1.2"/>
<line x1="481.2" y1="139" x2="485.2" y2="139" stroke="#000" stroke-width="1.1"/>
<text x="480.1" y="142.25" text-anchor="end" letter-spacing="0.5" font-family='"Liberation Serif", serif' font-weight="bold" font-size="7.8">0</text>
<line x1="481.2" y1="120.59" x2="485.2" y2="120.59" stroke="#000" stroke-width="1.1"/>
<text x="480.1" y="123.84" text-anchor="end" letter-spacing="0.5" font-family='"Liberation Serif", serif' font-weight="bold" font-size="7.8">25</text>
<line x1="481.2" y1="102.17" x2="485.2" y2="102.17" stroke="#000" stroke-width="1.1"/>
<text x="480.1" y="105.42" text-anchor="end" letter-spacing="0.5" font-family='"Liberation Serif", serif' font-weight="bold" font-size="7.8">50</text>
<line x1="481.2" y1="83.76" x2="485.2" y2="83.76" stroke="#000" stroke-width="1.1"/>
<text x="480.1" y="87.01" text-anchor="end" letter-spacing="0.5" font-family='"Liberation Serif", serif' font-weight="bold" font-size="7.8">75</text>
<line x1="481.2" y1="65.35" x2="485.2" y2="65.35" stroke="#000" stroke-width="1.1"/>
<text x="480.1" y="68.6" text-anchor="end" letter-spacing="0.5" font-family='"Liberation Serif", serif' font-weight="bold" font-size="7.8">100</text>
<line x1="484.6" y1="153.8" x2="639.8" y2="153.8" stroke="#000" stroke-width="1.2"/>
<line x1="485.2" y1="153.8" x2="485.2" y2="158.2" stroke="#000" stroke-width="1.1"/>
<text x="485.2" y="167.1" text-anchor="middle" font-family='"Liberation Serif", serif' font-weight="bold" font-size="7.5">-2</text>
<line x1="496.79" y1="153.8" x2="496.79" y2="156.1" stroke="#000" stroke-width="0.9"/>
<line x1="503.57" y1="153.8" x2="503.57" y2="156.1" stroke="#000" stroke-width="0.9"/>
<line x1="508.38" y1="153.8" x2="508.38" y2="156.1" stroke="#000" stroke-width="0.9"/>
<line x1="512.11" y1="153.8" x2="512.11" y2="156.1" stroke="#000" stroke-width="0.9"/>
<line x1="515.16" y1="153.8" x2="515.16" y2="156.1" stroke="#000" stroke-width="0.9"/>
<line x1="517.74" y1="153.8" x2="517.74" y2="156.1" stroke="#000" stroke-width="0.9"/>
<line x1="519.97" y1="153.8" x2="519.97" y2="156.1" stroke="#000" stroke-width="0.9"/>
<line x1="521.94" y1="153.8" x2="521.94" y2="156.1" stroke="#000" stroke-width="0.9"/>
<line x1="523.7" y1="153.8" x2="523.7" y2="158.2" stroke="#000" stroke-width="1.1"/>
<text x="523.7" y="167.1" text-anchor="middle" font-family='"Liberation Serif", serif' font-weight="bold" font-size="7.5">-1</text>
<line x1="535.29" y1="153.8" x2="535.29" y2="156.1" stroke="#000" stroke-width="0.9"/>
<line x1="542.07" y1="153.8" x2="542.07" y2="156.1" stroke="#000" stroke-width="0.9"/>
<line x1="546.88" y1="153.8" x2="546.88" y2="156.1" stroke="#000" stroke-width="0.9"/>
<line x1="550.61" y1="153.8" x2="550.61" y2="156.1" stroke="#000" stroke-width="0.9"/>
<line x1="553.66" y1="153.8" x2="553.66" y2="156.1" stroke="#000" stroke-width="0.9"/>
<line x1="556.24" y1="153.8" x2="556.24" y2="156.1" stroke="#000" stroke-width="0.9"/>
<line x1="558.47" y1="153.8" x2="558.47" y2="156.1" stroke="#000" stroke-width="0.9"/>
<line x1="560.44" y1="153.8" x2="560.44" y2="156.1" stroke="#000" stroke-width="0.9"/>
<line x1="562.2" y1="153.8" x2="562.2" y2="158.2" stroke="#000" stroke-width="1.1"/>
<text x="562.2" y="167.1" text-anchor="middle" font-family='"Liberation Serif", serif' font-weight="bold" font-size="7.5">0</text>
<line x1="573.79" y1="153.8" x2="573.79" y2="156.1" stroke="#000" stroke-width="0.9"/>
<line x1="580.57" y1="153.8" x2="580.57" y2="156.1" stroke="#000" stroke-width="0.9"/>
<line x1="585.38" y1="153.8" x2="585.38" y2="156.1" stroke="#000" stroke-width="0.9"/>
<line x1="589.11" y1="153.8" x2="589.11" y2="156.1" stroke="#000" stroke-width="0.9"/>
<line x1="592.16" y1="153.8" x2="592.16" y2="156.1" stroke="#000" stroke-width="0.9"/>
<line x1="594.74" y1="153.8" x2="594.74" y2="156.1" stroke="#000" stroke-width="0.9"/>
<line x1="596.97" y1="153.8" x2="596.97" y2="156.1" stroke="#000" stroke-width="0.9"/>
<line x1="598.94" y1="153.8" x2="598.94" y2="156.1" stroke="#000" stroke-width="0.9"/>
<line x1="600.7" y1="153.8" x2="600.7" y2="158.2" stroke="#000" stroke-width="1.1"/>
<text x="600.7" y="167.1" text-anchor="middle" font-family='"Liberation Serif", serif' font-weight="bold" font-size="7.5">1</text>
<line x1="612.29" y1="153.8" x2="612.29" y2="156.1" stroke="#000" stroke-width="0.9"/>
<line x1="619.07" y1="153.8" x2="619.07" y2="156.1" stroke="#000" stroke-width="0.9"/>
<line x1="623.88" y1="153.8" x2="623.88" y2="156.1" stroke="#000" stroke-width="0.9"/>
<line x1="627.61" y1="153.8" x2="627.61" y2="156.1" stroke="#000" stroke-width="0.9"/>
<line x1="630.66" y1="153.8" x2="630.66" y2="156.1" stroke="#000" stroke-width="0.9"/>
<line x1="633.24" y1="153.8" x2="633.24" y2="156.1" stroke="#000" stroke-width="0.9"/>
<line x1="635.47" y1="153.8" x2="635.47" y2="156.1" stroke="#000" stroke-width="0.9"/>
<line x1="637.44" y1="153.8" x2="637.44" y2="156.1" stroke="#000" stroke-width="0.9"/>
<line x1="639.2" y1="153.8" x2="639.2" y2="158.2" stroke="#000" stroke-width="1.1"/>
<text x="639.2" y="167.1" text-anchor="middle" font-family='"Liberation Serif", serif' font-weight="bold" font-size="7.5">2</text>
<line x1="487.9" y1="139" x2="637.2" y2="139" stroke="#3a3a3a" stroke-width="0.95" stroke-dasharray="1 2.07"/>
<text transform="translate(460.6,101.2) rotate(-90)" text-anchor="middle" font-family='"Liberation Serif", serif' font-weight="bold" font-size="10">Inhibition(%)</text>
<text x="520.9" y="179.4" font-family='"Liberation Serif", serif' font-weight="bold" font-size="10">mAb (&#956;g/mL) log10</text>
<path d="M496.6 137 L497.76 137 L498.93 137 L500.09 137 L501.26 137 L502.42 137 L503.58 137 L504.75 137 L505.91 137 L507.07 137 L508.24 137 L509.4 137 L510.57 137 L511.73 137 L512.89 137 L514.06 137 L515.22 137 L516.39 137 L517.55 137 L518.71 137 L519.88 137 L521.04 137 L522.21 137 L523.37 137 L524.53 137 L525.7 137 L526.86 137 L528.02 137 L529.19 137 L530.35 137 L531.52 137 L532.68 137 L533.84 137 L535.01 137 L536.17 137 L537.34 137 L538.5 137 L539.66 137 L540.83 137 L541.99 137 L543.15 137 L544.32 137 L545.48 137 L546.65 137 L547.81 137 L548.97 137 L550.14 137 L551.3 137 L552.47 137 L553.63 137 L554.79 137 L555.96 137 L557.12 137 L558.28 137 L559.45 137 L560.61 137 L561.78 137 L562.94 137 L564.1 137 L565.27 137 L566.43 137 L567.6 137 L568.76 137 L569.92 137 L571.09 137 L572.25 137 L573.42 137 L574.58 137 L575.74 137 L576.91 137.01 L578.07 137.03 L579.23 137.12 L580.4 137.48 L581.56 138.57 L582.73 140.63 L583.89 142.38 L585.05 143.11 L586.22 143.33 L587.38 143.38 L588.55 143.4 L589.71 143.4 L590.87 143.4 L592.04 143.4 L593.2 143.4 L594.36 143.4 L595.53 143.4 L596.69 143.4 L597.86 143.4 L599.02 143.4 L600.18 143.4 L601.35 143.4 L602.51 143.4 L603.68 143.4 L604.84 143.4 L606 143.4 L607.17 143.4 L608.33 143.4 L609.49 143.4 L610.66 143.4 L611.82 143.4 L612.99 143.4 L614.15 143.4 L615.31 143.4 L616.48 143.4 L617.64 143.4 L618.81 143.4 L619.97 143.4 L621.13 143.4 L622.3 143.4 L623.46 143.4 L624.63 143.4 L625.79 143.4 L626.95 143.4 L628.12 143.4 L629.28 143.4 L630.44 143.4 L631.61 143.4 L632.77 143.4 L633.94 143.4 L635.1 143.4" fill="none" stroke="#000000" stroke-width="1.3" stroke-linejoin="round"/>
<path d="M496.6 131.86 L498.35 131.86 L500.11 131.85 L501.86 131.85 L503.61 131.84 L505.37 131.83 L507.12 131.82 L508.87 131.81 L510.63 131.8 L512.38 131.78 L514.13 131.76 L515.88 131.73 L517.64 131.7 L519.39 131.66 L521.14 131.61 L522.9 131.55 L524.65 131.47 L526.4 131.38 L528.16 131.27 L529.91 131.13 L531.66 130.97 L533.42 130.76 L535.17 130.51 L536.92 130.21 L538.68 129.84 L540.43 129.4 L542.18 128.85 L543.94 128.2 L545.69 127.42 L547.44 126.49 L549.19 125.38 L550.95 124.08 L552.7 122.55 L554.45 120.79 L556.21 118.77 L557.96 116.49 L559.71 113.94 L561.47 111.16 L563.22 108.15 L564.97 104.98 L566.73 101.7 L568.48 98.37 L570.23 95.06 L571.99 91.84 L573.74 88.77 L575.49 85.91 L577.25 83.27 L579 80.9 L580.75 78.78 L582.51 76.93 L584.26 75.32 L586.01 73.94 L587.76 72.77 L589.52 71.78 L591.27 70.94 L593.02 70.25 L594.78 69.67 L596.53 69.19 L598.28 68.8 L600.04 68.47 L601.79 68.21 L603.54 67.99 L605.3 67.81 L607.05 67.66 L608.8 67.54 L610.56 67.44 L612.31 67.36 L614.06 67.3 L615.82 67.24 L617.57 67.2 L619.32 67.16 L621.07 67.14 L622.83 67.11 L624.58 67.09 L626.33 67.08 L628.09 67.06 L629.84 67.05 L631.59 67.05 L633.35 67.04 L635.1 67.03" fill="none" stroke="#0a0aff" stroke-width="1.3" stroke-linejoin="round"/>
<path d="M496.6 132.74 L498.35 132.74 L500.11 132.74 L501.86 132.74 L503.61 132.74 L505.37 132.74 L507.12 132.74 L508.87 132.74 L510.63 132.74 L512.38 132.74 L514.13 132.74 L515.88 132.73 L517.64 132.73 L519.39 132.72 L521.14 132.72 L522.9 132.7 L524.65 132.69 L526.4 132.67 L528.16 132.64 L529.91 132.6 L531.66 132.54 L533.42 132.46 L535.17 132.35 L536.92 132.19 L538.68 131.98 L540.43 131.68 L542.18 131.27 L543.94 130.7 L545.69 129.93 L547.44 128.89 L549.19 127.48 L550.95 125.62 L552.7 123.2 L554.45 120.12 L556.21 116.33 L557.96 111.81 L559.71 106.66 L561.47 101.07 L563.22 95.32 L564.97 89.71 L566.73 84.52 L568.48 79.96 L570.23 76.12 L571.99 73 L573.74 70.54 L575.49 68.65 L577.25 67.21 L579 66.15 L580.75 65.36 L582.51 64.78 L584.26 64.37 L586.01 64.06 L587.76 63.84 L589.52 63.68 L591.27 63.57 L593.02 63.49 L594.78 63.43 L596.53 63.38 L598.28 63.35 L600.04 63.33 L601.79 63.32 L603.54 63.31 L605.3 63.3 L607.05 63.29 L608.8 63.29 L610.56 63.28 L612.31 63.28 L614.06 63.28 L615.82 63.28 L617.57 63.28 L619.32 63.28 L621.07 63.28 L622.83 63.28 L624.58 63.28 L626.33 63.28 L628.09 63.28 L629.84 63.28 L631.59 63.28 L633.35 63.28 L635.1 63.28" fill="none" stroke="#ff1a0a" stroke-width="1.3" stroke-linejoin="round"/>
<line x1="496.6" y1="134" x2="496.6" y2="141.3" stroke="#444" stroke-width="0.72"/>
<line x1="494" y1="134" x2="499.2" y2="134" stroke="#444" stroke-width="0.72"/>
<line x1="494" y1="141.3" x2="499.2" y2="141.3" stroke="#444" stroke-width="0.72"/>
<line x1="515.3" y1="135.5" x2="515.3" y2="142.3" stroke="#000000" stroke-width="0.72"/>
<line x1="512.7" y1="135.5" x2="517.9" y2="135.5" stroke="#000000" stroke-width="0.72"/>
<line x1="512.7" y1="142.3" x2="517.9" y2="142.3" stroke="#000000" stroke-width="0.72"/>
<line x1="533.9" y1="133.5" x2="533.9" y2="141" stroke="#777" stroke-width="0.72"/>
<line x1="531.3" y1="133.5" x2="536.5" y2="133.5" stroke="#777" stroke-width="0.72"/>
<line x1="531.3" y1="141" x2="536.5" y2="141" stroke="#777" stroke-width="0.72"/>
<line x1="515.3" y1="126.1" x2="515.3" y2="131" stroke="#0a0aff" stroke-width="0.72"/>
<line x1="512.7" y1="126.1" x2="517.9" y2="126.1" stroke="#0a0aff" stroke-width="0.72"/>
<line x1="512.7" y1="131" x2="517.9" y2="131" stroke="#0a0aff" stroke-width="0.72"/>
<line x1="552.5" y1="115.5" x2="552.5" y2="120" stroke="#ff1a0a" stroke-width="0.72"/>
<line x1="549.9" y1="115.5" x2="555.1" y2="115.5" stroke="#ff1a0a" stroke-width="0.72"/>
<line x1="549.9" y1="120" x2="555.1" y2="120" stroke="#ff1a0a" stroke-width="0.72"/>
<circle cx="496.6" cy="137" r="2.5" fill="#000000"/>
<circle cx="515.3" cy="138.6" r="2.5" fill="#000000"/>
<circle cx="533.9" cy="136.5" r="2.5" fill="#000000"/>
<circle cx="552.5" cy="136.3" r="2.5" fill="#000000"/>
<circle cx="559.2" cy="135.7" r="2.5" fill="#000000"/>
<circle cx="565.9" cy="137.8" r="2.5" fill="#000000"/>
<circle cx="572.9" cy="136.6" r="2.5" fill="#000000"/>
<circle cx="579.7" cy="139.8" r="2.5" fill="#000000"/>
<circle cx="598.3" cy="142.9" r="2.5" fill="#000000"/>
<circle cx="616.8" cy="142.4" r="2.5" fill="#000000"/>
<circle cx="635.1" cy="144.2" r="2.5" fill="#000000"/>
<circle cx="496.6" cy="132.3" r="2.5" fill="#0a0aff"/>
<circle cx="515.3" cy="131.7" r="2.5" fill="#0a0aff"/>
<circle cx="533.9" cy="130.5" r="2.5" fill="#0a0aff"/>
<circle cx="552.5" cy="121.8" r="2.5" fill="#0a0aff"/>
<circle cx="559.2" cy="115.5" r="2.5" fill="#0a0aff"/>
<circle cx="565.9" cy="103.9" r="2.5" fill="#0a0aff"/>
<circle cx="572.9" cy="89" r="2.5" fill="#0a0aff"/>
<circle cx="579.7" cy="80.5" r="2.5" fill="#0a0aff"/>
<circle cx="598.3" cy="69.2" r="2.5" fill="#0a0aff"/>
<circle cx="616.8" cy="66.8" r="2.5" fill="#0a0aff"/>
<circle cx="635.1" cy="67.1" r="2.5" fill="#0a0aff"/>
<circle cx="496.6" cy="136.5" r="2.5" fill="#ff1a0a"/>
<circle cx="515.3" cy="135.2" r="2.5" fill="#ff1a0a"/>
<circle cx="533.9" cy="128.9" r="2.5" fill="#ff1a0a"/>
<circle cx="552.5" cy="118" r="2.5" fill="#ff1a0a"/>
<circle cx="559.2" cy="111" r="2.5" fill="#ff1a0a"/>
<circle cx="565.9" cy="89.9" r="2.5" fill="#ff1a0a"/>
<circle cx="572.9" cy="65.7" r="2.5" fill="#ff1a0a"/>
<circle cx="579.7" cy="65" r="2.5" fill="#ff1a0a"/>
<circle cx="598.3" cy="64.3" r="2.5" fill="#ff1a0a"/>
<circle cx="616.8" cy="64.4" r="2.5" fill="#ff1a0a"/>
<circle cx="635.1" cy="65" r="2.5" fill="#ff1a0a"/>
<line x1="496.2" y1="57.4" x2="507.8" y2="57.4" stroke="#ff1a0a" stroke-width="1.2"/>
<circle cx="502" cy="57.4" r="2.7" fill="#ff1a0a"/>
<text x="513.8" y="60.3" font-family='"Liberation Sans", sans-serif' font-size="8.5" fill="#ff1a0a">9MW3811</text>
<line x1="496.2" y1="71.3" x2="507.8" y2="71.3" stroke="#0a0aff" stroke-width="1.2"/>
<circle cx="502" cy="71.3" r="2.7" fill="#0a0aff"/>
<text x="513.8" y="74.2" font-family='"Liberation Sans", sans-serif' font-size="8.5" fill="#0a0aff">X-203</text>
<line x1="496.2" y1="85.3" x2="507.8" y2="85.3" stroke="#000000" stroke-width="1.2"/>
<circle cx="502" cy="85.3" r="2.7" fill="#000000"/>
<text x="513.8" y="88.2" font-family='"Liberation Sans", sans-serif' font-size="8.5" fill="#111">Isotype</text>
<text x="0.6" y="222.6" font-family='"Liberation Serif", serif' font-weight="bold" font-size="15">D</text>
<defs>
<linearGradient id="cyto" x1="0" y1="0" x2="0" y2="1">
<stop offset="0" stop-color="#d8eff3"/><stop offset="0.55" stop-color="#e6f5f7"/><stop offset="1" stop-color="#fcfefe"/>
</linearGradient>
<radialGradient id="il" cx="0.4" cy="0.4" r="0.6"><stop offset="0" stop-color="#cddcf5"/><stop offset="1" stop-color="#7e9fd8"/></radialGradient>
<linearGradient id="stat" x1="0" y1="0" x2="0" y2="1"><stop offset="0" stop-color="#5a78a8"/><stop offset="1" stop-color="#2b4a7c"/></linearGradient>
<radialGradient id="pp" cx="0.45" cy="0.4" r="0.6"><stop offset="0" stop-color="#f59aa0"/><stop offset="1" stop-color="#e04a55"/></radialGradient>
<marker id="ah2" markerWidth="5" markerHeight="5" refX="3.6" refY="2.5" orient="auto" markerUnits="userSpaceOnUse"><path d="M0 1 L3.8 2.5 L0 4 z" fill="#4a72c8"/></marker>
<marker id="ah" markerWidth="5" markerHeight="5" refX="4" refY="2.5" orient="auto" markerUnits="userSpaceOnUse"><path d="M0 0.6 L4.5 2.5 L0 4.4 z" fill="#4a72c8"/></marker>
<pattern id="lip" x="32.2" y="254.6" width="3.4" height="11" patternUnits="userSpaceOnUse">
<rect x="0" y="0" width="3.4" height="11" fill="#dfebf7"/>
<rect x="0" y="0.4" width="3.4" height="2.6" fill="#b3cfee"/>
<circle cx="0.9" cy="1.2" r="1.25" fill="#a2c3ea"/>
<circle cx="2.5" cy="2.2" r="1.0" fill="#aac8ec"/>
<rect x="0" y="7.8" width="3.4" height="2.7" fill="#b3cfee"/>
<circle cx="0.9" cy="9.6" r="1.25" fill="#a2c3ea"/>
<circle cx="2.5" cy="8.6" r="1.0" fill="#aac8ec"/>
<line x1="1.7" y1="3.2" x2="1.7" y2="7.6" stroke="#eef5fc" stroke-width="0.5"/>
</pattern>
</defs>
<rect x="32.2" y="264" width="190.3" height="116" fill="url(#cyto)"/>
<rect x="32.2" y="254.6" width="190.3" height="10.9" fill="url(#lip)"/>
<circle cx="89.8" cy="216.3" r="3.0" fill="url(#il)" stroke="#7f9fd6" stroke-width="0.3"/>
<circle cx="109.8" cy="210.7" r="3.0" fill="url(#il)" stroke="#7f9fd6" stroke-width="0.3"/>
<circle cx="104.9" cy="224" r="3.0" fill="url(#il)" stroke="#7f9fd6" stroke-width="0.3"/>
<circle cx="83.7" cy="229.4" r="3.0" fill="url(#il)" stroke="#7f9fd6" stroke-width="0.3"/>
<text x="101.7" y="239.5" text-anchor="middle" textLength="11" lengthAdjust="spacingAndGlyphs" font-family='"Liberation Sans", sans-serif' font-size="6" font-weight="bold" fill="#333">IL-11</text>
<rect x="89.9" y="241.8" width="5.2" height="39.6" rx="2.6" fill="#b3b4e3" stroke="#6e70aa" stroke-width="0.55"/>
<rect x="91.10000000000001" y="255" width="2.8" height="14" fill="#d9dbf3" opacity="0.8"/>
<text transform="translate(93.80000000000001,262.2) rotate(-90)" text-anchor="middle" textLength="12.6" lengthAdjust="spacingAndGlyphs" font-family='"Liberation Sans", sans-serif' font-size="3.9" font-weight="bold" fill="#2a2a3a">GP130</text>
<rect x="107.3" y="241.8" width="5.2" height="39.6" rx="2.6" fill="#b3b4e3" stroke="#6e70aa" stroke-width="0.55"/>
<rect x="108.5" y="255" width="2.8" height="14" fill="#d9dbf3" opacity="0.8"/>
<text transform="translate(111.2,262.2) rotate(-90)" text-anchor="middle" textLength="12.6" lengthAdjust="spacingAndGlyphs" font-family='"Liberation Sans", sans-serif' font-size="3.9" font-weight="bold" fill="#2a2a3a">GP130</text>
<rect x="96.0" y="250.9" width="4.6" height="21.4" rx="2.3" fill="#f5c8d6" stroke="#8a6a7a" stroke-width="0.55"/>
<rect x="97.1" y="255.5" width="2.5" height="13" fill="#fbe6ee" opacity="0.8"/>
<text transform="translate(99.5,262) rotate(-90)" text-anchor="middle" textLength="12.4" lengthAdjust="spacingAndGlyphs" font-family='"Liberation Sans", sans-serif' font-size="3.6" font-weight="bold" fill="#2a2a2a">IL11RA</text>
<rect x="101.4" y="250.9" width="4.6" height="21.4" rx="2.3" fill="#f5c8d6" stroke="#8a6a7a" stroke-width="0.55"/>
<rect x="102.5" y="255.5" width="2.5" height="13" fill="#fbe6ee" opacity="0.8"/>
<text transform="translate(104.9,262) rotate(-90)" text-anchor="middle" textLength="12.4" lengthAdjust="spacingAndGlyphs" font-family='"Liberation Sans", sans-serif' font-size="3.6" font-weight="bold" fill="#2a2a2a">IL11RA</text>
<circle cx="98.2" cy="245.4" r="2.5" fill="url(#il)" stroke="#7f9fd6" stroke-width="0.3"/>
<circle cx="103.4" cy="245.4" r="2.5" fill="url(#il)" stroke="#7f9fd6" stroke-width="0.3"/>
<ellipse cx="81.6" cy="274.8" rx="7.6" ry="3.1" fill="#cfe1f6" stroke="#6f93cf" stroke-width="0.5"/>
<text x="81.6" y="276.4" text-anchor="middle" font-family='"Liberation Sans", sans-serif' font-size="4.4" font-weight="bold" fill="#3a3a4a">JAK</text>
<ellipse cx="120.6" cy="274.8" rx="7.6" ry="3.1" fill="#cfe1f6" stroke="#6f93cf" stroke-width="0.5"/>
<text x="120.6" y="276.4" text-anchor="middle" font-family='"Liberation Sans", sans-serif' font-size="4.4" font-weight="bold" fill="#3a3a4a">JAK</text>
<line x1="101.4" y1="274" x2="101.4" y2="292.2" stroke="#4a72c8" stroke-width="0.8" marker-end="url(#ah)"/>
<line x1="101.4" y1="312.8" x2="101.4" y2="325.6" stroke="#4a72c8" stroke-width="0.8" marker-end="url(#ah)"/>
<rect x="91.6" y="294.6" width="21.4" height="6.3" rx="3.15" fill="url(#stat)" stroke="#1e355c" stroke-width="0.5"/>
<text x="102.3" y="299.55" text-anchor="middle" textLength="12.84" lengthAdjust="spacingAndGlyphs" font-family='"Liberation Serif", serif' font-size="5" fill="#eef2fa">STAT3</text>
<rect x="93.2" y="302.4" width="20.4" height="6.4" rx="3.2" fill="url(#stat)" stroke="#1e355c" stroke-width="0.5"/>
<text x="103.4" y="307.4" text-anchor="middle" textLength="12.24" lengthAdjust="spacingAndGlyphs" font-family='"Liberation Serif", serif' font-size="5" fill="#eef2fa">STAT3</text>
<circle cx="88.3" cy="297.7" r="3.2" fill="url(#pp)"/>
<text x="88.3" y="298.9" text-anchor="middle" font-family='"Liberation Sans", sans-serif' font-size="3.4" fill="#5a1010">P</text>
<circle cx="117.2" cy="305.3" r="3.2" fill="url(#pp)"/>
<text x="117.2" y="306.5" text-anchor="middle" font-family='"Liberation Sans", sans-serif' font-size="3.4" fill="#5a1010">P</text>
<rect x="56.2" y="328.4" width="90.8" height="52" rx="26" fill="#d9e4f3" stroke="#6b8fd0" stroke-width="0.6" stroke-dasharray="1.4 1"/>
<rect x="77.0" y="336.4" width="20.5" height="6.8" rx="3.4" fill="url(#stat)" stroke="#1e355c" stroke-width="0.5"/>
<text x="87.25" y="341.59999999999997" text-anchor="middle" textLength="12.30" lengthAdjust="spacingAndGlyphs" font-family='"Liberation Serif", serif' font-size="5" fill="#eef2fa">STAT3</text>
<rect x="77.4" y="343.9" width="21.1" height="6.8" rx="3.4" fill="url(#stat)" stroke="#1e355c" stroke-width="0.5"/>
<text x="87.95" y="349.09999999999997" text-anchor="middle" textLength="12.66" lengthAdjust="spacingAndGlyphs" font-family='"Liberation Serif", serif' font-size="5" fill="#eef2fa">STAT3</text>
<circle cx="73.0" cy="339.8" r="2.9" fill="url(#pp)"/>
<text x="73.0" y="341.0" text-anchor="middle" font-family='"Liberation Sans", sans-serif' font-size="3.4" fill="#5a1010">P</text>
<circle cx="101.3" cy="347.0" r="2.9" fill="url(#pp)"/>
<text x="101.3" y="348.2" text-anchor="middle" font-family='"Liberation Sans", sans-serif' font-size="3.4" fill="#5a1010">P</text>
<path d="M82.03 358.73 L82.03 352.27 M84.72 359.5 L84.72 351.5 M87.42 358.73 L87.42 352.27 M95.48 352.27 L95.48 358.73 M98.18 351.5 L98.18 359.5 M100.87 352.27 L100.87 358.73 M108.94 358.73 L108.94 352.27 M111.62 359.5 L111.62 351.5 M114.32 358.73 L114.32 352.27 M122.39 352.27 L122.39 358.73 M125.08 351.5 L125.08 359.5 M127.77 352.27 L127.77 358.73" stroke="#7b9de0" stroke-width="0.5" fill="none"/>
<path d="M78 355.5 L78.34 355.87 L78.68 356.24 L79.02 356.6 L79.35 356.96 L79.69 357.31 L80.03 357.65 L80.37 357.97 L80.71 358.28 L81.05 358.57 L81.38 358.84 L81.72 359.09 L82.06 359.32 L82.4 359.52 L82.74 359.7 L83.08 359.86 L83.41 359.98 L83.75 360.08 L84.09 360.15 L84.43 360.19 L84.77 360.2 L85.11 360.18 L85.44 360.13 L85.78 360.06 L86.12 359.95 L86.46 359.82 L86.8 359.66 L87.14 359.47 L87.47 359.26 L87.81 359.03 L88.15 358.77 L88.49 358.5 L88.83 358.2 L89.17 357.89 L89.5 357.56 L89.84 357.22 L90.18 356.87 L90.52 356.51 L90.86 356.15 L91.2 355.78 L91.53 355.41 L91.87 355.04 L92.21 354.67 L92.55 354.31 L92.89 353.95 L93.23 353.61 L93.56 353.27 L93.9 352.95 L94.24 352.65 L94.58 352.36 L94.92 352.1 L95.26 351.85 L95.59 351.63 L95.93 351.43 L96.27 351.26 L96.61 351.11 L96.95 350.99 L97.29 350.9 L97.63 350.84 L97.96 350.81 L98.3 350.8 L98.64 350.83 L98.98 350.88 L99.32 350.97 L99.66 351.08 L99.99 351.22 L100.33 351.38 L100.67 351.58 L101.01 351.79 L101.35 352.03 L101.69 352.29 L102.02 352.57 L102.36 352.87 L102.7 353.19 L103.04 353.52 L103.38 353.86 L103.72 354.22 L104.05 354.58 L104.39 354.94 L104.73 355.31 L105.07 355.69 L105.41 356.06 L105.75 356.42 L106.08 356.78 L106.42 357.14 L106.76 357.48 L107.1 357.81 L107.44 358.13 L107.78 358.43 L108.11 358.71 L108.45 358.97 L108.79 359.21 L109.13 359.42 L109.47 359.62 L109.81 359.78 L110.14 359.92 L110.48 360.03 L110.82 360.12 L111.16 360.17 L111.5 360.2 L111.84 360.19 L112.17 360.16 L112.51 360.1 L112.85 360.01 L113.19 359.89 L113.53 359.74 L113.87 359.57 L114.21 359.37 L114.54 359.15 L114.88 358.9 L115.22 358.64 L115.56 358.35 L115.9 358.05 L116.24 357.73 L116.57 357.39 L116.91 357.05 L117.25 356.69 L117.59 356.33 L117.93 355.96 L118.27 355.59 L118.6 355.22 L118.94 354.85 L119.28 354.49 L119.62 354.13 L119.96 353.78 L120.3 353.44 L120.63 353.11 L120.97 352.8 L121.31 352.5 L121.65 352.23 L121.99 351.97 L122.33 351.74 L122.66 351.53 L123 351.34 L123.34 351.18 L123.68 351.05 L124.02 350.94 L124.36 350.87 L124.69 350.82 L125.03 350.8 L125.37 350.81 L125.71 350.85 L126.05 350.92 L126.39 351.02 L126.72 351.14 L127.06 351.3 L127.4 351.48 L127.74 351.68 L128.08 351.91 L128.42 352.16 L128.75 352.43 L129.09 352.72 L129.43 353.03 L129.77 353.35 L130.11 353.69 L130.45 354.04 L130.78 354.4 L131.12 354.76 L131.46 355.13 L131.8 355.5" stroke="#5b7fd6" stroke-width="0.8" fill="none"/>
<path d="M78 355.5 L78.34 355.13 L78.68 354.76 L79.02 354.4 L79.35 354.04 L79.69 353.69 L80.03 353.35 L80.37 353.03 L80.71 352.72 L81.05 352.43 L81.38 352.16 L81.72 351.91 L82.06 351.68 L82.4 351.48 L82.74 351.3 L83.08 351.14 L83.41 351.02 L83.75 350.92 L84.09 350.85 L84.43 350.81 L84.77 350.8 L85.11 350.82 L85.44 350.87 L85.78 350.94 L86.12 351.05 L86.46 351.18 L86.8 351.34 L87.14 351.53 L87.47 351.74 L87.81 351.97 L88.15 352.23 L88.49 352.5 L88.83 352.8 L89.17 353.11 L89.5 353.44 L89.84 353.78 L90.18 354.13 L90.52 354.49 L90.86 354.85 L91.2 355.22 L91.53 355.59 L91.87 355.96 L92.21 356.33 L92.55 356.69 L92.89 357.05 L93.23 357.39 L93.56 357.73 L93.9 358.05 L94.24 358.35 L94.58 358.64 L94.92 358.9 L95.26 359.15 L95.59 359.37 L95.93 359.57 L96.27 359.74 L96.61 359.89 L96.95 360.01 L97.29 360.1 L97.63 360.16 L97.96 360.19 L98.3 360.2 L98.64 360.17 L98.98 360.12 L99.32 360.03 L99.66 359.92 L99.99 359.78 L100.33 359.62 L100.67 359.42 L101.01 359.21 L101.35 358.97 L101.69 358.71 L102.02 358.43 L102.36 358.13 L102.7 357.81 L103.04 357.48 L103.38 357.14 L103.72 356.78 L104.05 356.42 L104.39 356.06 L104.73 355.69 L105.07 355.31 L105.41 354.94 L105.75 354.58 L106.08 354.22 L106.42 353.86 L106.76 353.52 L107.1 353.19 L107.44 352.87 L107.78 352.57 L108.11 352.29 L108.45 352.03 L108.79 351.79 L109.13 351.58 L109.47 351.38 L109.81 351.22 L110.14 351.08 L110.48 350.97 L110.82 350.88 L111.16 350.83 L111.5 350.8 L111.84 350.81 L112.17 350.84 L112.51 350.9 L112.85 350.99 L113.19 351.11 L113.53 351.26 L113.87 351.43 L114.21 351.63 L114.54 351.85 L114.88 352.1 L115.22 352.36 L115.56 352.65 L115.9 352.95 L116.24 353.27 L116.57 353.61 L116.91 353.95 L117.25 354.31 L117.59 354.67 L117.93 355.04 L118.27 355.41 L118.6 355.78 L118.94 356.15 L119.28 356.51 L119.62 356.87 L119.96 357.22 L120.3 357.56 L120.63 357.89 L120.97 358.2 L121.31 358.5 L121.65 358.77 L121.99 359.03 L122.33 359.26 L122.66 359.47 L123 359.66 L123.34 359.82 L123.68 359.95 L124.02 360.06 L124.36 360.13 L124.69 360.18 L125.03 360.2 L125.37 360.19 L125.71 360.15 L126.05 360.08 L126.39 359.98 L126.72 359.86 L127.06 359.7 L127.4 359.52 L127.74 359.32 L128.08 359.09 L128.42 358.84 L128.75 358.57 L129.09 358.28 L129.43 357.97 L129.77 357.65 L130.11 357.31 L130.45 356.96 L130.78 356.6 L131.12 356.24 L131.46 355.87 L131.8 355.5" stroke="#5b7fd6" stroke-width="0.8" fill="none"/>
<text x="115.9" y="371.4" font-family='"Liberation Sans", sans-serif' font-size="4.6" font-weight="bold" font-style="italic" fill="#333">Nucleus</text>
<line x1="142" y1="330.3" x2="155.5" y2="324.1" stroke="#4a72c8" stroke-width="0.5" marker-end="url(#ah2)"/>
<line x1="147.2" y1="336.9" x2="168" y2="333.2" stroke="#4a72c8" stroke-width="0.5" marker-end="url(#ah2)"/>
<line x1="155.5" y1="345.6" x2="180.8" y2="344.2" stroke="#4a72c8" stroke-width="0.5" marker-end="url(#ah2)"/>
<line x1="155.5" y1="354.1" x2="180.8" y2="355.5" stroke="#4a72c8" stroke-width="0.5" marker-end="url(#ah2)"/>
<line x1="152.4" y1="362.8" x2="168.6" y2="365.9" stroke="#4a72c8" stroke-width="0.5" marker-end="url(#ah2)"/>
<line x1="143.7" y1="371.7" x2="153.5" y2="376.3" stroke="#4a72c8" stroke-width="0.5" marker-end="url(#ah2)"/>
<text x="158.2" y="321.70000000000005" textLength="31.9" lengthAdjust="spacingAndGlyphs" font-family='"Liberation Sans", sans-serif' font-size="4.7" font-weight="bold" font-style="italic" fill="#333">Angiogenesis</text>
<line x1="158.2" y1="322.70000000000005" x2="190.1" y2="322.70000000000005" stroke="#333" stroke-width="0.4"/>
<text x="174.6" y="333.3" textLength="21.3" lengthAdjust="spacingAndGlyphs" font-family='"Liberation Sans", sans-serif' font-size="4.7" font-weight="bold" font-style="italic" fill="#333">Migration</text>
<line x1="174.6" y1="334.3" x2="195.9" y2="334.3" stroke="#333" stroke-width="0.4"/>
<text x="189.7" y="346.20000000000005" textLength="28.3" lengthAdjust="spacingAndGlyphs" font-family='"Liberation Sans", sans-serif' font-size="4.7" font-weight="bold" font-style="italic" fill="#333">Proliferation</text>
<line x1="189.7" y1="347.20000000000005" x2="218" y2="347.20000000000005" stroke="#333" stroke-width="0.4"/>
<text x="189.7" y="357.5" textLength="19.3" lengthAdjust="spacingAndGlyphs" font-family='"Liberation Sans", sans-serif' font-size="4.7" font-weight="bold" font-style="italic" fill="#333">Invasion</text>
<line x1="189.7" y1="358.5" x2="209" y2="358.5" stroke="#333" stroke-width="0.4"/>
<text x="180.4" y="368.90000000000003" textLength="18.6" lengthAdjust="spacingAndGlyphs" font-family='"Liberation Sans", sans-serif' font-size="4.7" font-weight="bold" font-style="italic" fill="#333">Survival</text>
<line x1="180.4" y1="369.90000000000003" x2="199" y2="369.90000000000003" stroke="#333" stroke-width="0.4"/>
<text x="157.2" y="380.3" textLength="32.9" lengthAdjust="spacingAndGlyphs" font-family='"Liberation Sans", sans-serif' font-size="4.7" font-weight="bold" font-style="italic" fill="#333">Differentiation</text>
<line x1="157.2" y1="381.3" x2="190.1" y2="381.3" stroke="#333" stroke-width="0.4"/>
<text x="231.8" y="222.8" font-family='"Liberation Serif", serif' font-weight="bold" font-size="15">E</text>
<text x="302.4" y="234" textLength="69.4" lengthAdjust="spacingAndGlyphs" font-family='"Liberation Serif", serif' font-size="10.7">Signal inhibition</text>
<line x1="275.3" y1="258.8" x2="275.3" y2="363.2" stroke="#000" stroke-width="1.2"/>
<line x1="271.3" y1="347.8" x2="275.3" y2="347.8" stroke="#000" stroke-width="1.1"/>
<text x="270.4" y="351.05" text-anchor="end" letter-spacing="0.5" font-family='"Liberation Serif", serif' font-weight="bold" font-size="7.8">0</text>
<line x1="271.3" y1="329.32" x2="275.3" y2="329.32" stroke="#000" stroke-width="1.1"/>
<text x="270.4" y="332.57" text-anchor="end" letter-spacing="0.5" font-family='"Liberation Serif", serif' font-weight="bold" font-size="7.8">25</text>
<line x1="271.3" y1="310.85" x2="275.3" y2="310.85" stroke="#000" stroke-width="1.1"/>
<text x="270.4" y="314.1" text-anchor="end" letter-spacing="0.5" font-family='"Liberation Serif", serif' font-weight="bold" font-size="7.8">50</text>
<line x1="271.3" y1="292.38" x2="275.3" y2="292.38" stroke="#000" stroke-width="1.1"/>
<text x="270.4" y="295.62" text-anchor="end" letter-spacing="0.5" font-family='"Liberation Serif", serif' font-weight="bold" font-size="7.8">75</text>
<line x1="271.3" y1="273.9" x2="275.3" y2="273.9" stroke="#000" stroke-width="1.1"/>
<text x="270.4" y="277.15" text-anchor="end" letter-spacing="0.5" font-family='"Liberation Serif", serif' font-weight="bold" font-size="7.8">100</text>
<line x1="274.7" y1="362.6" x2="431.02" y2="362.6" stroke="#000" stroke-width="1.2"/>
<line x1="275.3" y1="362.6" x2="275.3" y2="367" stroke="#000" stroke-width="1.1"/>
<text x="275.3" y="375.8" text-anchor="middle" font-family='"Liberation Serif", serif' font-weight="bold" font-size="7.5">-6</text>
<line x1="286.97" y1="362.6" x2="286.97" y2="364.9" stroke="#000" stroke-width="0.9"/>
<line x1="293.8" y1="362.6" x2="293.8" y2="364.9" stroke="#000" stroke-width="0.9"/>
<line x1="298.65" y1="362.6" x2="298.65" y2="364.9" stroke="#000" stroke-width="0.9"/>
<line x1="302.41" y1="362.6" x2="302.41" y2="364.9" stroke="#000" stroke-width="0.9"/>
<line x1="305.48" y1="362.6" x2="305.48" y2="364.9" stroke="#000" stroke-width="0.9"/>
<line x1="308.07" y1="362.6" x2="308.07" y2="364.9" stroke="#000" stroke-width="0.9"/>
<line x1="310.32" y1="362.6" x2="310.32" y2="364.9" stroke="#000" stroke-width="0.9"/>
<line x1="312.31" y1="362.6" x2="312.31" y2="364.9" stroke="#000" stroke-width="0.9"/>
<line x1="314.08" y1="362.6" x2="314.08" y2="367" stroke="#000" stroke-width="1.1"/>
<text x="314.08" y="375.8" text-anchor="middle" font-family='"Liberation Serif", serif' font-weight="bold" font-size="7.5">-4</text>
<line x1="325.75" y1="362.6" x2="325.75" y2="364.9" stroke="#000" stroke-width="0.9"/>
<line x1="332.58" y1="362.6" x2="332.58" y2="364.9" stroke="#000" stroke-width="0.9"/>
<line x1="337.43" y1="362.6" x2="337.43" y2="364.9" stroke="#000" stroke-width="0.9"/>
<line x1="341.19" y1="362.6" x2="341.19" y2="364.9" stroke="#000" stroke-width="0.9"/>
<line x1="344.26" y1="362.6" x2="344.26" y2="364.9" stroke="#000" stroke-width="0.9"/>
<line x1="346.85" y1="362.6" x2="346.85" y2="364.9" stroke="#000" stroke-width="0.9"/>
<line x1="349.1" y1="362.6" x2="349.1" y2="364.9" stroke="#000" stroke-width="0.9"/>
<line x1="351.09" y1="362.6" x2="351.09" y2="364.9" stroke="#000" stroke-width="0.9"/>
<line x1="352.86" y1="362.6" x2="352.86" y2="367" stroke="#000" stroke-width="1.1"/>
<text x="352.86" y="375.8" text-anchor="middle" font-family='"Liberation Serif", serif' font-weight="bold" font-size="7.5">-2</text>
<line x1="364.53" y1="362.6" x2="364.53" y2="364.9" stroke="#000" stroke-width="0.9"/>
<line x1="371.36" y1="362.6" x2="371.36" y2="364.9" stroke="#000" stroke-width="0.9"/>
<line x1="376.21" y1="362.6" x2="376.21" y2="364.9" stroke="#000" stroke-width="0.9"/>
<line x1="379.97" y1="362.6" x2="379.97" y2="364.9" stroke="#000" stroke-width="0.9"/>
<line x1="383.04" y1="362.6" x2="383.04" y2="364.9" stroke="#000" stroke-width="0.9"/>
<line x1="385.63" y1="362.6" x2="385.63" y2="364.9" stroke="#000" stroke-width="0.9"/>
<line x1="387.88" y1="362.6" x2="387.88" y2="364.9" stroke="#000" stroke-width="0.9"/>
<line x1="389.87" y1="362.6" x2="389.87" y2="364.9" stroke="#000" stroke-width="0.9"/>
<line x1="391.64" y1="362.6" x2="391.64" y2="367" stroke="#000" stroke-width="1.1"/>
<text x="391.64" y="375.8" text-anchor="middle" font-family='"Liberation Serif", serif' font-weight="bold" font-size="7.5">0</text>
<line x1="403.31" y1="362.6" x2="403.31" y2="364.9" stroke="#000" stroke-width="0.9"/>
<line x1="410.14" y1="362.6" x2="410.14" y2="364.9" stroke="#000" stroke-width="0.9"/>
<line x1="414.99" y1="362.6" x2="414.99" y2="364.9" stroke="#000" stroke-width="0.9"/>
<line x1="418.75" y1="362.6" x2="418.75" y2="364.9" stroke="#000" stroke-width="0.9"/>
<line x1="421.82" y1="362.6" x2="421.82" y2="364.9" stroke="#000" stroke-width="0.9"/>
<line x1="424.41" y1="362.6" x2="424.41" y2="364.9" stroke="#000" stroke-width="0.9"/>
<line x1="426.66" y1="362.6" x2="426.66" y2="364.9" stroke="#000" stroke-width="0.9"/>
<line x1="428.65" y1="362.6" x2="428.65" y2="364.9" stroke="#000" stroke-width="0.9"/>
<line x1="430.42" y1="362.6" x2="430.42" y2="367" stroke="#000" stroke-width="1.1"/>
<text x="430.42" y="375.8" text-anchor="middle" font-family='"Liberation Serif", serif' font-weight="bold" font-size="7.5">2</text>
<line x1="278" y1="347.8" x2="428.42" y2="347.8" stroke="#3a3a3a" stroke-width="0.95" stroke-dasharray="1 2.07"/>
<text transform="translate(251.6,310.6) rotate(-90)" text-anchor="middle" font-family='"Liberation Serif", serif' font-weight="bold" font-size="10">Inhibition(%)</text>
<text x="311.4" y="388.3" font-family='"Liberation Serif", serif' font-weight="bold" font-size="10">mAb (&#956;g/mL) log10</text>
<line x1="365.9" y1="348.4" x2="401" y2="348.4" stroke="#000" stroke-width="1.3"/>
<line x1="365.9" y1="344.3" x2="365.9" y2="354.3" stroke="#333" stroke-width="0.72"/>
<line x1="363.3" y1="344.3" x2="368.5" y2="344.3" stroke="#333" stroke-width="0.72"/>
<line x1="363.3" y1="354.3" x2="368.5" y2="354.3" stroke="#333" stroke-width="0.72"/>
<circle cx="365.9" cy="349.4" r="2.6" fill="#000000"/>
<circle cx="377.5" cy="350.9" r="2.6" fill="#000000"/>
<circle cx="389.2" cy="345.8" r="2.6" fill="#000000"/>
<circle cx="401" cy="351.2" r="2.6" fill="#000000"/>
<path d="M315.3 351.38 L316.63 351.38 L317.96 351.38 L319.29 351.38 L320.62 351.37 L321.95 351.37 L323.27 351.37 L324.6 351.37 L325.93 351.37 L327.26 351.37 L328.59 351.37 L329.92 351.37 L331.25 351.36 L332.58 351.36 L333.91 351.36 L335.24 351.35 L336.57 351.34 L337.89 351.34 L339.22 351.33 L340.55 351.32 L341.88 351.31 L343.21 351.29 L344.54 351.27 L345.87 351.25 L347.2 351.22 L348.53 351.19 L349.86 351.15 L351.19 351.1 L352.52 351.04 L353.84 350.97 L355.17 350.89 L356.5 350.79 L357.83 350.67 L359.16 350.52 L360.49 350.34 L361.82 350.13 L363.15 349.87 L364.48 349.56 L365.81 349.19 L367.14 348.75 L368.46 348.22 L369.79 347.59 L371.12 346.85 L372.45 345.97 L373.78 344.93 L375.11 343.72 L376.44 342.31 L377.77 340.68 L379.1 338.82 L380.43 336.7 L381.76 334.33 L383.08 331.7 L384.41 328.82 L385.74 325.72 L387.07 322.44 L388.4 319.01 L389.73 315.49 L391.06 311.95 L392.39 308.45 L393.72 305.05 L395.05 301.8 L396.38 298.76 L397.71 295.94 L399.03 293.37 L400.36 291.06 L401.69 289.01 L403.02 287.21 L404.35 285.63 L405.68 284.27 L407.01 283.11 L408.34 282.11 L409.67 281.26 L411 280.55 L412.33 279.95 L413.65 279.44 L414.98 279.02 L416.31 278.66 L417.64 278.37 L418.97 278.12 L420.3 277.92" fill="none" stroke="#0a0aff" stroke-width="1.3" stroke-linejoin="round"/>
<circle cx="315.3" cy="352.1" r="2.6" fill="#0a0aff"/>
<circle cx="327" cy="351" r="2.6" fill="#0a0aff"/>
<circle cx="338.5" cy="349" r="2.6" fill="#0a0aff"/>
<circle cx="350.3" cy="353.2" r="2.6" fill="#0a0aff"/>
<circle cx="362.2" cy="349.9" r="2.6" fill="#0a0aff"/>
<circle cx="373.6" cy="345.3" r="2.6" fill="#0a0aff"/>
<circle cx="385.3" cy="326.5" r="2.6" fill="#0a0aff"/>
<circle cx="397.2" cy="297.3" r="2.6" fill="#0a0aff"/>
<circle cx="408.7" cy="281.5" r="2.6" fill="#0a0aff"/>
<circle cx="420.3" cy="278.1" r="2.6" fill="#0a0aff"/>
<path d="M296.2 336.8 L297.53 336.78 L298.85 336.76 L300.18 336.73 L301.5 336.7 L302.83 336.67 L304.15 336.63 L305.48 336.59 L306.8 336.54 L308.13 336.49 L309.45 336.43 L310.78 336.36 L312.1 336.29 L313.43 336.2 L314.75 336.1 L316.08 336 L317.41 335.87 L318.73 335.74 L320.06 335.59 L321.38 335.41 L322.71 335.22 L324.03 335.01 L325.36 334.77 L326.68 334.5 L328.01 334.19 L329.33 333.86 L330.66 333.48 L331.98 333.07 L333.31 332.6 L334.63 332.09 L335.96 331.52 L337.28 330.89 L338.61 330.2 L339.94 329.43 L341.26 328.6 L342.59 327.68 L343.91 326.69 L345.24 325.61 L346.56 324.44 L347.89 323.19 L349.21 321.84 L350.54 320.41 L351.86 318.89 L353.19 317.29 L354.51 315.61 L355.84 313.87 L357.16 312.06 L358.49 310.21 L359.82 308.31 L361.14 306.4 L362.47 304.47 L363.79 302.54 L365.12 300.63 L366.44 298.75 L367.77 296.92 L369.09 295.13 L370.42 293.41 L371.74 291.76 L373.07 290.19 L374.39 288.71 L375.72 287.31 L377.04 286 L378.37 284.77 L379.69 283.64 L381.02 282.59 L382.35 281.63 L383.67 280.75 L385 279.94 L386.32 279.2 L387.65 278.53 L388.97 277.93 L390.3 277.38 L391.62 276.89 L392.95 276.44 L394.27 276.04 L395.6 275.68 L396.92 275.36 L398.25 275.07 L399.57 274.81 L400.9 274.58" fill="none" stroke="#ff1a0a" stroke-width="1.3" stroke-linejoin="round"/>
<line x1="296.2" y1="335.4" x2="296.2" y2="341.2" stroke="#ff1a0a" stroke-width="0.72"/>
<line x1="293.6" y1="335.4" x2="298.8" y2="335.4" stroke="#ff1a0a" stroke-width="0.72"/>
<line x1="293.6" y1="341.2" x2="298.8" y2="341.2" stroke="#ff1a0a" stroke-width="0.72"/>
<line x1="307.6" y1="334.5" x2="307.6" y2="340.8" stroke="#ff1a0a" stroke-width="0.72"/>
<line x1="305" y1="334.5" x2="310.2" y2="334.5" stroke="#ff1a0a" stroke-width="0.72"/>
<line x1="305" y1="340.8" x2="310.2" y2="340.8" stroke="#ff1a0a" stroke-width="0.72"/>
<circle cx="296.2" cy="338.1" r="2.6" fill="#ff1a0a"/>
<circle cx="307.6" cy="337.3" r="2.6" fill="#ff1a0a"/>
<circle cx="319.5" cy="334.9" r="2.6" fill="#ff1a0a"/>
<circle cx="331.1" cy="331.8" r="2.6" fill="#ff1a0a"/>
<circle cx="342.6" cy="327.3" r="2.6" fill="#ff1a0a"/>
<circle cx="354.2" cy="316.2" r="2.6" fill="#ff1a0a"/>
<circle cx="366.2" cy="300.9" r="2.6" fill="#ff1a0a"/>
<circle cx="377.7" cy="283.3" r="2.6" fill="#ff1a0a"/>
<circle cx="389.4" cy="277" r="2.6" fill="#ff1a0a"/>
<circle cx="400.9" cy="276" r="2.6" fill="#ff1a0a"/>
<line x1="287" y1="265.9" x2="298" y2="265.9" stroke="#ff1a0a" stroke-width="1.2"/>
<circle cx="292.5" cy="265.9" r="2.7" fill="#ff1a0a"/>
<text x="304.2" y="268.8" font-family='"Liberation Sans", sans-serif' font-size="8.5" fill="#ff1a0a">9MW3811</text>
<line x1="287" y1="279.8" x2="298" y2="279.8" stroke="#0a0aff" stroke-width="1.2"/>
<circle cx="292.5" cy="279.8" r="2.7" fill="#0a0aff"/>
<text x="304.2" y="282.7" font-family='"Liberation Sans", sans-serif' font-size="8.5" fill="#0a0aff">X-203</text>
<line x1="287" y1="293.7" x2="298" y2="293.7" stroke="#000000" stroke-width="1.2"/>
<circle cx="292.5" cy="293.7" r="2.7" fill="#000000"/>
<text x="304.2" y="296.6" font-family='"Liberation Sans", sans-serif' font-size="8.5" fill="#111">Isotype</text>
<text x="436.4" y="222.8" font-family='"Liberation Serif", serif' font-weight="bold" font-size="15">F</text>
<text x="521.8" y="232.9" textLength="92.4" lengthAdjust="spacingAndGlyphs" font-family='"Liberation Serif", serif' font-size="10.7">Inhibition of pSTAT3</text>
<line x1="485.4" y1="255.1" x2="485.4" y2="361.6" stroke="#000" stroke-width="1.2"/>
<line x1="481.4" y1="346.2" x2="485.4" y2="346.2" stroke="#000" stroke-width="1.1"/>
<text x="480.3" y="349.45" text-anchor="end" letter-spacing="0.5" font-family='"Liberation Serif", serif' font-weight="bold" font-size="7.8">0</text>
<line x1="481.4" y1="327.35" x2="485.4" y2="327.35" stroke="#000" stroke-width="1.1"/>
<text x="480.3" y="330.6" text-anchor="end" letter-spacing="0.5" font-family='"Liberation Serif", serif' font-weight="bold" font-size="7.8">25</text>
<line x1="481.4" y1="308.5" x2="485.4" y2="308.5" stroke="#000" stroke-width="1.1"/>
<text x="480.3" y="311.75" text-anchor="end" letter-spacing="0.5" font-family='"Liberation Serif", serif' font-weight="bold" font-size="7.8">50</text>
<line x1="481.4" y1="289.65" x2="485.4" y2="289.65" stroke="#000" stroke-width="1.1"/>
<text x="480.3" y="292.9" text-anchor="end" letter-spacing="0.5" font-family='"Liberation Serif", serif' font-weight="bold" font-size="7.8">75</text>
<line x1="481.4" y1="270.8" x2="485.4" y2="270.8" stroke="#000" stroke-width="1.1"/>
<text x="480.3" y="274.05" text-anchor="end" letter-spacing="0.5" font-family='"Liberation Serif", serif' font-weight="bold" font-size="7.8">100</text>
<line x1="484.8" y1="361" x2="643.75" y2="361" stroke="#000" stroke-width="1.2"/>
<line x1="485.4" y1="361" x2="485.4" y2="365.4" stroke="#000" stroke-width="1.1"/>
<text x="485.4" y="374.5" text-anchor="middle" font-family='"Liberation Serif", serif' font-weight="bold" font-size="7.5">-3</text>
<line x1="494.9" y1="361" x2="494.9" y2="363.3" stroke="#000" stroke-width="0.9"/>
<line x1="500.45" y1="361" x2="500.45" y2="363.3" stroke="#000" stroke-width="0.9"/>
<line x1="504.39" y1="361" x2="504.39" y2="363.3" stroke="#000" stroke-width="0.9"/>
<line x1="507.45" y1="361" x2="507.45" y2="363.3" stroke="#000" stroke-width="0.9"/>
<line x1="509.95" y1="361" x2="509.95" y2="363.3" stroke="#000" stroke-width="0.9"/>
<line x1="512.06" y1="361" x2="512.06" y2="363.3" stroke="#000" stroke-width="0.9"/>
<line x1="513.89" y1="361" x2="513.89" y2="363.3" stroke="#000" stroke-width="0.9"/>
<line x1="515.51" y1="361" x2="515.51" y2="363.3" stroke="#000" stroke-width="0.9"/>
<line x1="516.95" y1="361" x2="516.95" y2="365.4" stroke="#000" stroke-width="1.1"/>
<text x="516.95" y="374.5" text-anchor="middle" font-family='"Liberation Serif", serif' font-weight="bold" font-size="7.5">-2</text>
<line x1="526.45" y1="361" x2="526.45" y2="363.3" stroke="#000" stroke-width="0.9"/>
<line x1="532" y1="361" x2="532" y2="363.3" stroke="#000" stroke-width="0.9"/>
<line x1="535.94" y1="361" x2="535.94" y2="363.3" stroke="#000" stroke-width="0.9"/>
<line x1="539" y1="361" x2="539" y2="363.3" stroke="#000" stroke-width="0.9"/>
<line x1="541.5" y1="361" x2="541.5" y2="363.3" stroke="#000" stroke-width="0.9"/>
<line x1="543.61" y1="361" x2="543.61" y2="363.3" stroke="#000" stroke-width="0.9"/>
<line x1="545.44" y1="361" x2="545.44" y2="363.3" stroke="#000" stroke-width="0.9"/>
<line x1="547.06" y1="361" x2="547.06" y2="363.3" stroke="#000" stroke-width="0.9"/>
<line x1="548.5" y1="361" x2="548.5" y2="365.4" stroke="#000" stroke-width="1.1"/>
<text x="548.5" y="374.5" text-anchor="middle" font-family='"Liberation Serif", serif' font-weight="bold" font-size="7.5">-1</text>
<line x1="558" y1="361" x2="558" y2="363.3" stroke="#000" stroke-width="0.9"/>
<line x1="563.55" y1="361" x2="563.55" y2="363.3" stroke="#000" stroke-width="0.9"/>
<line x1="567.49" y1="361" x2="567.49" y2="363.3" stroke="#000" stroke-width="0.9"/>
<line x1="570.55" y1="361" x2="570.55" y2="363.3" stroke="#000" stroke-width="0.9"/>
<line x1="573.05" y1="361" x2="573.05" y2="363.3" stroke="#000" stroke-width="0.9"/>
<line x1="575.16" y1="361" x2="575.16" y2="363.3" stroke="#000" stroke-width="0.9"/>
<line x1="576.99" y1="361" x2="576.99" y2="363.3" stroke="#000" stroke-width="0.9"/>
<line x1="578.61" y1="361" x2="578.61" y2="363.3" stroke="#000" stroke-width="0.9"/>
<line x1="580.05" y1="361" x2="580.05" y2="365.4" stroke="#000" stroke-width="1.1"/>
<text x="580.05" y="374.5" text-anchor="middle" font-family='"Liberation Serif", serif' font-weight="bold" font-size="7.5">0</text>
<line x1="589.55" y1="361" x2="589.55" y2="363.3" stroke="#000" stroke-width="0.9"/>
<line x1="595.1" y1="361" x2="595.1" y2="363.3" stroke="#000" stroke-width="0.9"/>
<line x1="599.04" y1="361" x2="599.04" y2="363.3" stroke="#000" stroke-width="0.9"/>
<line x1="602.1" y1="361" x2="602.1" y2="363.3" stroke="#000" stroke-width="0.9"/>
<line x1="604.6" y1="361" x2="604.6" y2="363.3" stroke="#000" stroke-width="0.9"/>
<line x1="606.71" y1="361" x2="606.71" y2="363.3" stroke="#000" stroke-width="0.9"/>
<line x1="608.54" y1="361" x2="608.54" y2="363.3" stroke="#000" stroke-width="0.9"/>
<line x1="610.16" y1="361" x2="610.16" y2="363.3" stroke="#000" stroke-width="0.9"/>
<line x1="611.6" y1="361" x2="611.6" y2="365.4" stroke="#000" stroke-width="1.1"/>
<text x="611.6" y="374.5" text-anchor="middle" font-family='"Liberation Serif", serif' font-weight="bold" font-size="7.5">1</text>
<line x1="621.1" y1="361" x2="621.1" y2="363.3" stroke="#000" stroke-width="0.9"/>
<line x1="626.65" y1="361" x2="626.65" y2="363.3" stroke="#000" stroke-width="0.9"/>
<line x1="630.59" y1="361" x2="630.59" y2="363.3" stroke="#000" stroke-width="0.9"/>
<line x1="633.65" y1="361" x2="633.65" y2="363.3" stroke="#000" stroke-width="0.9"/>
<line x1="636.15" y1="361" x2="636.15" y2="363.3" stroke="#000" stroke-width="0.9"/>
<line x1="638.26" y1="361" x2="638.26" y2="363.3" stroke="#000" stroke-width="0.9"/>
<line x1="640.09" y1="361" x2="640.09" y2="363.3" stroke="#000" stroke-width="0.9"/>
<line x1="641.71" y1="361" x2="641.71" y2="363.3" stroke="#000" stroke-width="0.9"/>
<line x1="643.15" y1="361" x2="643.15" y2="365.4" stroke="#000" stroke-width="1.1"/>
<text x="643.15" y="374.5" text-anchor="middle" font-family='"Liberation Serif", serif' font-weight="bold" font-size="7.5">2</text>
<line x1="488.1" y1="346.2" x2="641.15" y2="346.2" stroke="#222" stroke-width="0.95" stroke-dasharray="1 2.07"/>
<text transform="translate(460.6,307.6) rotate(-90)" text-anchor="middle" font-family='"Liberation Serif", serif' font-weight="bold" font-size="10">Inhibition(%)</text>
<text x="523.1" y="386.2" font-family='"Liberation Serif", serif' font-weight="bold" font-size="10">mAb (&#956;g/mL) log10</text>
<path d="M521.4 331.1 L522.16 331.1 L522.92 331.1 L523.68 331.1 L524.44 331.1 L525.2 331.1 L525.96 331.1 L526.72 331.1 L527.48 331.1 L528.24 331.1 L529 331.1 L529.76 331.1 L530.52 331.1 L531.28 331.1 L532.04 331.1 L532.79 331.1 L533.55 331.1 L534.31 331.1 L535.07 331.1 L535.83 331.1 L536.59 331.1 L537.35 331.1 L538.11 331.1 L538.87 331.1 L539.63 331.1 L540.39 331.1 L541.15 331.1 L541.91 331.1 L542.67 331.11 L543.43 331.12 L544.19 331.14 L544.95 331.21 L545.71 331.4 L546.47 331.88 L547.23 333 L547.99 335.21 L548.75 338.33 L549.51 341.2 L550.27 342.94 L551.03 343.76 L551.79 344.09 L552.55 344.22 L553.31 344.27 L554.07 344.29 L554.83 344.3 L555.58 344.3 L556.34 344.3 L557.1 344.3 L557.86 344.3 L558.62 344.3 L559.38 344.3 L560.14 344.3 L560.9 344.3 L561.66 344.3 L562.42 344.3 L563.18 344.3 L563.94 344.3 L564.7 344.3 L565.46 344.3 L566.22 344.3 L566.98 344.3 L567.74 344.3 L568.5 344.3 L569.26 344.3 L570.02 344.3 L570.78 344.3 L571.54 344.3 L572.3 344.3 L573.06 344.3 L573.82 344.3 L574.58 344.3 L575.34 344.3 L576.1 344.3 L576.86 344.3 L577.62 344.3 L578.37 344.3 L579.13 344.3 L579.89 344.3 L580.65 344.3 L581.41 344.3 L582.17 344.3 L582.93 344.3 L583.69 344.3 L584.45 344.3 L585.21 344.3 L585.97 344.3 L586.73 344.3 L587.49 344.3 L588.25 344.3 L589.01 344.3 L589.77 344.3 L590.53 344.3 L591.29 344.3 L592.05 344.3 L592.81 344.3 L593.57 344.3 L594.33 344.3 L595.09 344.3 L595.85 344.3 L596.61 344.3 L597.37 344.3 L598.13 344.3 L598.89 344.3 L599.65 344.3 L600.41 344.3 L601.16 344.3 L601.92 344.3 L602.68 344.3 L603.44 344.3 L604.2 344.3 L604.96 344.3 L605.72 344.3 L606.48 344.3 L607.24 344.3 L608 344.3 L608.76 344.3 L609.52 344.3 L610.28 344.3 L611.04 344.3 L611.8 344.3" fill="none" stroke="#000000" stroke-width="1.3" stroke-linejoin="round"/>
<line x1="521.4" y1="321.1" x2="521.4" y2="345" stroke="#333" stroke-width="0.72"/>
<line x1="518.8" y1="321.1" x2="524" y2="321.1" stroke="#333" stroke-width="0.72"/>
<line x1="518.8" y1="345" x2="524" y2="345" stroke="#333" stroke-width="0.72"/>
<line x1="536.4" y1="312.7" x2="536.4" y2="340.8" stroke="#333" stroke-width="0.72"/>
<line x1="533.8" y1="312.7" x2="539" y2="312.7" stroke="#333" stroke-width="0.72"/>
<line x1="533.8" y1="340.8" x2="539" y2="340.8" stroke="#333" stroke-width="0.72"/>
<line x1="551.3" y1="338.8" x2="551.3" y2="348.5" stroke="#333" stroke-width="0.72"/>
<line x1="548.7" y1="338.8" x2="553.9" y2="338.8" stroke="#333" stroke-width="0.72"/>
<line x1="548.7" y1="348.5" x2="553.9" y2="348.5" stroke="#333" stroke-width="0.72"/>
<line x1="581.6" y1="334.1" x2="581.6" y2="341.3" stroke="#333" stroke-width="0.72"/>
<line x1="579" y1="334.1" x2="584.2" y2="334.1" stroke="#333" stroke-width="0.72"/>
<line x1="579" y1="341.3" x2="584.2" y2="341.3" stroke="#333" stroke-width="0.72"/>
<line x1="596.6" y1="341.5" x2="596.6" y2="346.8" stroke="#333" stroke-width="0.72"/>
<line x1="594" y1="341.5" x2="599.2" y2="341.5" stroke="#333" stroke-width="0.72"/>
<line x1="594" y1="346.8" x2="599.2" y2="346.8" stroke="#333" stroke-width="0.72"/>
<line x1="611.8" y1="331.3" x2="611.8" y2="361" stroke="#333" stroke-width="0.72"/>
<line x1="609.2" y1="331.3" x2="614.4" y2="331.3" stroke="#333" stroke-width="0.72"/>
<line x1="609.2" y1="361" x2="614.4" y2="361" stroke="#333" stroke-width="0.72"/>
<circle cx="521.4" cy="333.1" r="2.6" fill="#000000"/>
<circle cx="536.4" cy="326.8" r="2.6" fill="#000000"/>
<circle cx="551.3" cy="343.4" r="2.6" fill="#000000"/>
<circle cx="566.4" cy="347.8" r="2.6" fill="#000000"/>
<circle cx="581.6" cy="337.9" r="2.6" fill="#000000"/>
<circle cx="596.6" cy="344.1" r="2.6" fill="#000000"/>
<circle cx="611.8" cy="348.3" r="2.6" fill="#000000"/>
<path d="M521.4 334.87 L522.54 334.54 L523.69 334.2 L524.83 333.85 L525.98 333.49 L527.12 333.11 L528.27 332.72 L529.41 332.32 L530.55 331.9 L531.7 331.47 L532.84 331.03 L533.99 330.56 L535.13 330.09 L536.28 329.59 L537.42 329.09 L538.56 328.56 L539.71 328.02 L540.85 327.46 L542 326.89 L543.14 326.3 L544.29 325.69 L545.43 325.06 L546.57 324.42 L547.72 323.76 L548.86 323.08 L550.01 322.39 L551.15 321.67 L552.3 320.94 L553.44 320.19 L554.58 319.43 L555.73 318.65 L556.87 317.85 L558.02 317.03 L559.16 316.2 L560.31 315.35 L561.45 314.49 L562.59 313.61 L563.74 312.71 L564.88 311.8 L566.03 310.88 L567.17 309.95 L568.32 309 L569.46 308.04 L570.61 307.07 L571.75 306.09 L572.89 305.1 L574.04 304.1 L575.18 303.1 L576.33 302.08 L577.47 301.07 L578.62 300.04 L579.76 299.02 L580.9 297.99 L582.05 296.95 L583.19 295.92 L584.34 294.89 L585.48 293.86 L586.63 292.83 L587.77 291.8 L588.91 290.78 L590.06 289.76 L591.2 288.75 L592.35 287.75 L593.49 286.75 L594.64 285.76 L595.78 284.78 L596.92 283.82 L598.07 282.86 L599.21 281.91 L600.36 280.98 L601.5 280.06 L602.65 279.16 L603.79 278.27 L604.93 277.39 L606.08 276.53 L607.22 275.68 L608.37 274.85 L609.51 274.04 L610.66 273.24 L611.8 272.46" fill="none" stroke="#0a0aff" stroke-width="1.3" stroke-linejoin="round"/>
<line x1="521.4" y1="331.8" x2="521.4" y2="346" stroke="#0a0aff" stroke-width="0.72"/>
<line x1="518.8" y1="331.8" x2="524" y2="331.8" stroke="#0a0aff" stroke-width="0.72"/>
<line x1="518.8" y1="346" x2="524" y2="346" stroke="#0a0aff" stroke-width="0.72"/>
<line x1="536.4" y1="319.3" x2="536.4" y2="341.1" stroke="#0a0aff" stroke-width="0.72"/>
<line x1="533.8" y1="319.3" x2="539" y2="319.3" stroke="#0a0aff" stroke-width="0.72"/>
<line x1="533.8" y1="341.1" x2="539" y2="341.1" stroke="#0a0aff" stroke-width="0.72"/>
<line x1="551.3" y1="309.6" x2="551.3" y2="313.7" stroke="#0a0aff" stroke-width="0.72"/>
<line x1="548.7" y1="309.6" x2="553.9" y2="309.6" stroke="#0a0aff" stroke-width="0.72"/>
<line x1="548.7" y1="313.7" x2="553.9" y2="313.7" stroke="#0a0aff" stroke-width="0.72"/>
<line x1="566.4" y1="317.6" x2="566.4" y2="325.4" stroke="#0a0aff" stroke-width="0.72"/>
<line x1="563.8" y1="317.6" x2="569" y2="317.6" stroke="#0a0aff" stroke-width="0.72"/>
<line x1="563.8" y1="325.4" x2="569" y2="325.4" stroke="#0a0aff" stroke-width="0.72"/>
<line x1="581.6" y1="295" x2="581.6" y2="300" stroke="#0a0aff" stroke-width="0.72"/>
<line x1="579" y1="295" x2="584.2" y2="295" stroke="#0a0aff" stroke-width="0.72"/>
<line x1="579" y1="300" x2="584.2" y2="300" stroke="#0a0aff" stroke-width="0.72"/>
<line x1="596.6" y1="274" x2="596.6" y2="283.1" stroke="#0a0aff" stroke-width="0.72"/>
<line x1="594" y1="274" x2="599.2" y2="274" stroke="#0a0aff" stroke-width="0.72"/>
<line x1="594" y1="283.1" x2="599.2" y2="283.1" stroke="#0a0aff" stroke-width="0.72"/>
<circle cx="521.4" cy="336.5" r="2.6" fill="#0a0aff"/>
<circle cx="536.4" cy="330" r="2.6" fill="#0a0aff"/>
<circle cx="551.3" cy="309.6" r="2.6" fill="#0a0aff"/>
<circle cx="566.4" cy="321.4" r="2.6" fill="#0a0aff"/>
<circle cx="581.6" cy="298.6" r="2.6" fill="#0a0aff"/>
<circle cx="596.6" cy="277.8" r="2.6" fill="#0a0aff"/>
<circle cx="611.8" cy="274" r="2.6" fill="#0a0aff"/>
<path d="M521.4 300.29 L522.54 299.26 L523.69 298.19 L524.83 297.1 L525.98 295.98 L527.12 294.84 L528.27 293.69 L529.41 292.53 L530.55 291.37 L531.7 290.22 L532.84 289.08 L533.99 287.97 L535.13 286.87 L536.28 285.81 L537.42 284.79 L538.56 283.8 L539.71 282.86 L540.85 281.96 L542 281.11 L543.14 280.3 L544.29 279.54 L545.43 278.83 L546.57 278.17 L547.72 277.55 L548.86 276.98 L550.01 276.45 L551.15 275.97 L552.3 275.52 L553.44 275.1 L554.58 274.73 L555.73 274.38 L556.87 274.07 L558.02 273.78 L559.16 273.52 L560.31 273.28 L561.45 273.06 L562.59 272.87 L563.74 272.69 L564.88 272.53 L566.03 272.38 L567.17 272.25 L568.32 272.13 L569.46 272.02 L570.61 271.93 L571.75 271.84 L572.89 271.76 L574.04 271.69 L575.18 271.63 L576.33 271.57 L577.47 271.52 L578.62 271.47 L579.76 271.43 L580.9 271.39 L582.05 271.36 L583.19 271.32 L584.34 271.3 L585.48 271.27 L586.63 271.25 L587.77 271.23 L588.91 271.21 L590.06 271.2 L591.2 271.18 L592.35 271.17 L593.49 271.16 L594.64 271.15 L595.78 271.14 L596.92 271.13 L598.07 271.12 L599.21 271.11 L600.36 271.11 L601.5 271.1 L602.65 271.1 L603.79 271.09 L604.93 271.09 L606.08 271.09 L607.22 271.08 L608.37 271.08 L609.51 271.08 L610.66 271.07 L611.8 271.07" fill="none" stroke="#ff1a0a" stroke-width="1.3" stroke-linejoin="round"/>
<line x1="536.4" y1="277.9" x2="536.4" y2="294.3" stroke="#ff1a0a" stroke-width="0.72"/>
<line x1="533.8" y1="277.9" x2="539" y2="277.9" stroke="#ff1a0a" stroke-width="0.72"/>
<line x1="533.8" y1="294.3" x2="539" y2="294.3" stroke="#ff1a0a" stroke-width="0.72"/>
<line x1="581.6" y1="269.5" x2="581.6" y2="277.1" stroke="#ff1a0a" stroke-width="0.72"/>
<line x1="579" y1="269.5" x2="584.2" y2="269.5" stroke="#ff1a0a" stroke-width="0.72"/>
<line x1="579" y1="277.1" x2="584.2" y2="277.1" stroke="#ff1a0a" stroke-width="0.72"/>
<circle cx="521.4" cy="300.3" r="2.6" fill="#ff1a0a"/>
<circle cx="536.4" cy="285.6" r="2.6" fill="#ff1a0a"/>
<circle cx="551.3" cy="276.4" r="2.6" fill="#ff1a0a"/>
<circle cx="566.4" cy="270.8" r="2.6" fill="#ff1a0a"/>
<circle cx="581.6" cy="273.3" r="2.6" fill="#ff1a0a"/>
<circle cx="596.6" cy="271.6" r="2.6" fill="#ff1a0a"/>
<circle cx="611.8" cy="269.8" r="2.6" fill="#ff1a0a"/>
<line x1="629.1" y1="273.4" x2="640.8" y2="273.4" stroke="#ff1a0a" stroke-width="1.2"/>
<circle cx="634.95" cy="273.4" r="2.7" fill="#ff1a0a"/>
<text x="647" y="276.3" font-family='"Liberation Sans", sans-serif' font-size="8.5" fill="#ff1a0a">9MW3811</text>
<line x1="629.1" y1="287.1" x2="640.8" y2="287.1" stroke="#0a0aff" stroke-width="1.2"/>
<circle cx="634.95" cy="287.1" r="2.7" fill="#0a0aff"/>
<text x="647" y="290" font-family='"Liberation Sans", sans-serif' font-size="8.5" fill="#0a0aff">X-203</text>
<line x1="629.1" y1="301.5" x2="640.8" y2="301.5" stroke="#000000" stroke-width="1.2"/>
<circle cx="634.95" cy="301.5" r="2.7" fill="#000000"/>
<text x="647" y="304.4" font-family='"Liberation Sans", sans-serif' font-size="8.5" fill="#111">Isotype</text>
</svg>
</body></html>
